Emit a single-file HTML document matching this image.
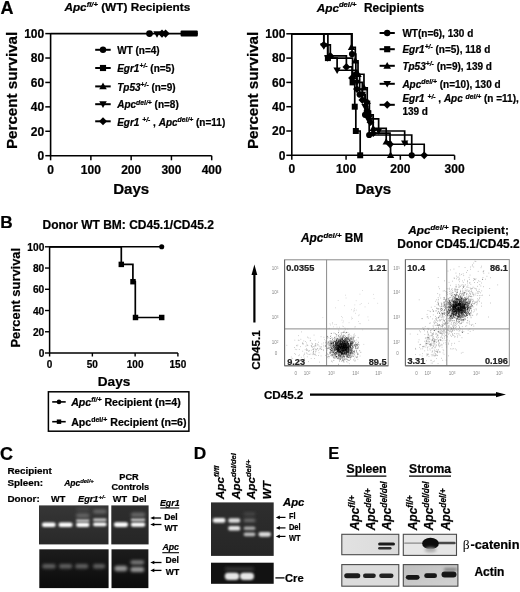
<!DOCTYPE html>
<html><head><meta charset="utf-8"><style>
html,body{margin:0;padding:0;background:#fff;width:520px;height:592px;overflow:hidden}
svg{display:block;filter:blur(0.35px)}
</style></head><body>
<svg width="520" height="592" viewBox="0 0 520 592">
<rect width="520" height="592" fill="#fff"/>
<text x="0.40" y="13.80" font-size="18" text-anchor="start" font-family="Liberation Sans" font-weight="bold" fill="#000" stroke="#000" stroke-width="0.22" >A</text>
<text x="64.40" y="11.40" font-size="11.8" text-anchor="start" font-family="Liberation Sans" font-weight="bold" fill="#000" stroke="#000" stroke-width="0.22" ><tspan font-style="italic">Apc</tspan><tspan dy="-4" font-size="7.6" font-style="italic">fl/+</tspan><tspan dy="4">&#8203;</tspan> (WT) Recipients</text>
<path d="M50.6,32.9V155.7H211.7" stroke="#000" stroke-width="1.6" fill="none" />
<line x1="45.30" y1="155.70" x2="50.60" y2="155.70" stroke="#000" stroke-width="1.5"/>
<text x="44.20" y="160.00" font-size="12" text-anchor="end" font-family="Liberation Sans" font-weight="bold" fill="#000" stroke="#000" stroke-width="0.22" >0</text>
<line x1="45.30" y1="131.28" x2="50.60" y2="131.28" stroke="#000" stroke-width="1.5"/>
<text x="44.20" y="135.58" font-size="12" text-anchor="end" font-family="Liberation Sans" font-weight="bold" fill="#000" stroke="#000" stroke-width="0.22" >20</text>
<line x1="45.30" y1="106.86" x2="50.60" y2="106.86" stroke="#000" stroke-width="1.5"/>
<text x="44.20" y="111.16" font-size="12" text-anchor="end" font-family="Liberation Sans" font-weight="bold" fill="#000" stroke="#000" stroke-width="0.22" >40</text>
<line x1="45.30" y1="82.44" x2="50.60" y2="82.44" stroke="#000" stroke-width="1.5"/>
<text x="44.20" y="86.74" font-size="12" text-anchor="end" font-family="Liberation Sans" font-weight="bold" fill="#000" stroke="#000" stroke-width="0.22" >60</text>
<line x1="45.30" y1="58.02" x2="50.60" y2="58.02" stroke="#000" stroke-width="1.5"/>
<text x="44.20" y="62.32" font-size="12" text-anchor="end" font-family="Liberation Sans" font-weight="bold" fill="#000" stroke="#000" stroke-width="0.22" >80</text>
<line x1="45.30" y1="33.60" x2="50.60" y2="33.60" stroke="#000" stroke-width="1.5"/>
<text x="44.20" y="37.90" font-size="12" text-anchor="end" font-family="Liberation Sans" font-weight="bold" fill="#000" stroke="#000" stroke-width="0.22" >100</text>
<line x1="50.60" y1="155.70" x2="50.60" y2="160.30" stroke="#000" stroke-width="1.5"/>
<text x="50.60" y="173.60" font-size="12" text-anchor="middle" font-family="Liberation Sans" font-weight="bold" fill="#000" stroke="#000" stroke-width="0.22" >0</text>
<line x1="90.88" y1="155.70" x2="90.88" y2="160.30" stroke="#000" stroke-width="1.5"/>
<text x="90.88" y="173.60" font-size="12" text-anchor="middle" font-family="Liberation Sans" font-weight="bold" fill="#000" stroke="#000" stroke-width="0.22" >100</text>
<line x1="131.15" y1="155.70" x2="131.15" y2="160.30" stroke="#000" stroke-width="1.5"/>
<text x="131.15" y="173.60" font-size="12" text-anchor="middle" font-family="Liberation Sans" font-weight="bold" fill="#000" stroke="#000" stroke-width="0.22" >200</text>
<line x1="171.43" y1="155.70" x2="171.43" y2="160.30" stroke="#000" stroke-width="1.5"/>
<text x="171.43" y="173.60" font-size="12" text-anchor="middle" font-family="Liberation Sans" font-weight="bold" fill="#000" stroke="#000" stroke-width="0.22" >300</text>
<line x1="211.70" y1="155.70" x2="211.70" y2="160.30" stroke="#000" stroke-width="1.5"/>
<text x="211.70" y="173.60" font-size="12" text-anchor="middle" font-family="Liberation Sans" font-weight="bold" fill="#000" stroke="#000" stroke-width="0.22" >400</text>
<text x="131.20" y="193.60" font-size="15.1" text-anchor="middle" font-family="Liberation Sans" font-weight="bold" fill="#000" stroke="#000" stroke-width="0.22" >Days</text>
<text x="0.00" y="0.00" font-size="15.2" text-anchor="middle" font-family="Liberation Sans" font-weight="bold" fill="#000" stroke="#000" stroke-width="0.22" transform="translate(16.7,90.4) rotate(-90)">Percent survival</text>
<line x1="50.60" y1="33.60" x2="197.70" y2="33.60" stroke="#000" stroke-width="1.8"/>
<circle cx="149.50" cy="33.60" r="3.38" fill="#000"/>
<path d="M157.00,37.78L160.68,31.34L153.32,31.34Z" fill="#000"/>
<path d="M162.00,29.52L166.08,33.60L162.00,37.68L157.92,33.60Z" fill="#000"/>
<path d="M165.60,29.52L169.68,33.60L165.60,37.68L161.52,33.60Z" fill="#000"/>
<rect x="180.6" y="30.6" width="17.2" height="6" rx="1" fill="#000"/>
<line x1="95.20" y1="49.80" x2="110.70" y2="49.80" stroke="#000" stroke-width="2.0"/>
<circle cx="103.00" cy="49.80" r="3.19" fill="#000"/>
<text x="117.20" y="54.00" font-size="10" text-anchor="start" font-family="Liberation Sans" font-weight="bold" fill="#000" stroke="#000" stroke-width="0.22" >WT (n=4)</text>
<line x1="95.20" y1="68.00" x2="110.70" y2="68.00" stroke="#000" stroke-width="2.0"/>
<rect x="99.93" y="64.93" width="6.14" height="6.14" fill="#000"/>
<text x="117.20" y="72.20" font-size="10" text-anchor="start" font-family="Liberation Sans" font-weight="bold" fill="#000" stroke="#000" stroke-width="0.22" ><tspan font-style="italic">Egr1</tspan><tspan dy="-3.8" font-size="6.8" font-style="italic">+/-</tspan><tspan dy="3.8">&#8203;</tspan> (n=5)</text>
<line x1="95.20" y1="86.40" x2="110.70" y2="86.40" stroke="#000" stroke-width="2.0"/>
<path d="M103.00,82.62L106.78,89.23L99.22,89.23Z" fill="#000"/>
<text x="117.20" y="90.60" font-size="10" text-anchor="start" font-family="Liberation Sans" font-weight="bold" fill="#000" stroke="#000" stroke-width="0.22" ><tspan font-style="italic">Tp53</tspan><tspan dy="-3.8" font-size="6.8" font-style="italic">+/-</tspan><tspan dy="3.8">&#8203;</tspan> (n=9)</text>
<line x1="95.20" y1="104.20" x2="110.70" y2="104.20" stroke="#000" stroke-width="2.0"/>
<path d="M103.00,107.98L106.78,101.37L99.22,101.37Z" fill="#000"/>
<text x="117.20" y="108.40" font-size="10" text-anchor="start" font-family="Liberation Sans" font-weight="bold" fill="#000" stroke="#000" stroke-width="0.22" ><tspan font-style="italic">Apc</tspan><tspan dy="-3.8" font-size="6.8" font-style="italic">del/+</tspan><tspan dy="3.8">&#8203;</tspan> (n=8)</text>
<line x1="95.20" y1="121.30" x2="110.70" y2="121.30" stroke="#000" stroke-width="2.0"/>
<path d="M103.00,117.29L107.01,121.30L103.00,125.31L98.99,121.30Z" fill="#000"/>
<text x="117.20" y="125.50" font-size="10" text-anchor="start" font-family="Liberation Sans" font-weight="bold" fill="#000" stroke="#000" stroke-width="0.22" ><tspan font-style="italic">Egr1</tspan> <tspan dy="-3.8" font-size="6.8" font-style="italic">+/-</tspan><tspan dy="3.8">&#8203;</tspan> , <tspan font-style="italic">Apc</tspan><tspan dy="-3.8" font-size="6.8" font-style="italic">del/+</tspan><tspan dy="3.8">&#8203;</tspan> (n=11)</text>
<text x="316.70" y="11.60" font-size="11.8" text-anchor="start" font-family="Liberation Sans" font-weight="bold" fill="#000" stroke="#000" stroke-width="0.22" ><tspan font-style="italic">Apc</tspan><tspan dy="-4.2" font-size="7.6" font-style="italic">del/+</tspan><tspan dy="4.2">&#8203;</tspan></text>
<text x="364.00" y="11.60" font-size="11.9" text-anchor="start" font-family="Liberation Sans" font-weight="bold" fill="#000" stroke="#000" stroke-width="0.22" >Recipients</text>
<path d="M291.8,33.099999999999994V155.3H454.6" stroke="#000" stroke-width="1.6" fill="none" />
<line x1="286.30" y1="155.30" x2="291.80" y2="155.30" stroke="#000" stroke-width="1.5"/>
<text x="285.40" y="159.60" font-size="12" text-anchor="end" font-family="Liberation Sans" font-weight="bold" fill="#000" stroke="#000" stroke-width="0.22" >0</text>
<line x1="286.30" y1="131.00" x2="291.80" y2="131.00" stroke="#000" stroke-width="1.5"/>
<text x="285.40" y="135.30" font-size="12" text-anchor="end" font-family="Liberation Sans" font-weight="bold" fill="#000" stroke="#000" stroke-width="0.22" >20</text>
<line x1="286.30" y1="106.70" x2="291.80" y2="106.70" stroke="#000" stroke-width="1.5"/>
<text x="285.40" y="111.00" font-size="12" text-anchor="end" font-family="Liberation Sans" font-weight="bold" fill="#000" stroke="#000" stroke-width="0.22" >40</text>
<line x1="286.30" y1="82.40" x2="291.80" y2="82.40" stroke="#000" stroke-width="1.5"/>
<text x="285.40" y="86.70" font-size="12" text-anchor="end" font-family="Liberation Sans" font-weight="bold" fill="#000" stroke="#000" stroke-width="0.22" >60</text>
<line x1="286.30" y1="58.10" x2="291.80" y2="58.10" stroke="#000" stroke-width="1.5"/>
<text x="285.40" y="62.40" font-size="12" text-anchor="end" font-family="Liberation Sans" font-weight="bold" fill="#000" stroke="#000" stroke-width="0.22" >80</text>
<line x1="286.30" y1="33.80" x2="291.80" y2="33.80" stroke="#000" stroke-width="1.5"/>
<text x="285.40" y="38.10" font-size="12" text-anchor="end" font-family="Liberation Sans" font-weight="bold" fill="#000" stroke="#000" stroke-width="0.22" >100</text>
<line x1="291.80" y1="155.30" x2="291.80" y2="159.80" stroke="#000" stroke-width="1.5"/>
<text x="291.80" y="173.40" font-size="12" text-anchor="middle" font-family="Liberation Sans" font-weight="bold" fill="#000" stroke="#000" stroke-width="0.22" >0</text>
<line x1="346.07" y1="155.30" x2="346.07" y2="159.80" stroke="#000" stroke-width="1.5"/>
<text x="346.07" y="173.40" font-size="12" text-anchor="middle" font-family="Liberation Sans" font-weight="bold" fill="#000" stroke="#000" stroke-width="0.22" >100</text>
<line x1="400.33" y1="155.30" x2="400.33" y2="159.80" stroke="#000" stroke-width="1.5"/>
<text x="400.33" y="173.40" font-size="12" text-anchor="middle" font-family="Liberation Sans" font-weight="bold" fill="#000" stroke="#000" stroke-width="0.22" >200</text>
<line x1="454.60" y1="155.30" x2="454.60" y2="159.80" stroke="#000" stroke-width="1.5"/>
<text x="454.60" y="173.40" font-size="12" text-anchor="middle" font-family="Liberation Sans" font-weight="bold" fill="#000" stroke="#000" stroke-width="0.22" >300</text>
<text x="373.20" y="193.60" font-size="15.1" text-anchor="middle" font-family="Liberation Sans" font-weight="bold" fill="#000" stroke="#000" stroke-width="0.22" >Days</text>
<text x="0.00" y="0.00" font-size="15.2" text-anchor="middle" font-family="Liberation Sans" font-weight="bold" fill="#000" stroke="#000" stroke-width="0.22" transform="translate(258.1,90.4) rotate(-90)">Percent survival</text>
<path d="M291.80,33.80H352.04V54.09H355.83V74.26H359.63V94.55H365.06V114.84H369.18V135.01H411.73V155.30" stroke="#000" stroke-width="1.7" fill="none" />
<circle cx="352.04" cy="54.09" r="3.10" fill="#000"/>
<circle cx="355.83" cy="74.26" r="3.10" fill="#000"/>
<circle cx="359.63" cy="94.55" r="3.10" fill="#000"/>
<circle cx="365.06" cy="114.84" r="3.10" fill="#000"/>
<circle cx="369.18" cy="135.01" r="3.10" fill="#000"/>
<circle cx="411.73" cy="155.30" r="3.10" fill="#000"/>
<path d="M291.80,33.80H327.89V58.10H352.58V82.40H354.75V106.70H355.83V131.00H360.18V155.30" stroke="#000" stroke-width="1.7" fill="none" />
<rect x="324.90" y="55.11" width="5.98" height="5.98" fill="#000"/>
<rect x="349.59" y="79.41" width="5.98" height="5.98" fill="#000"/>
<rect x="351.76" y="103.71" width="5.98" height="5.98" fill="#000"/>
<rect x="352.84" y="128.01" width="5.98" height="5.98" fill="#000"/>
<rect x="357.19" y="152.31" width="5.98" height="5.98" fill="#000"/>
<path d="M291.80,33.80H351.49V47.29H355.29V60.77H358.01V74.26H363.97V87.75H367.23V101.35H369.40V114.84H373.20V128.33H386.22V141.81H390.57V155.30" stroke="#000" stroke-width="1.7" fill="none" />
<path d="M351.49,43.61L355.17,50.05L347.81,50.05Z" fill="#000"/>
<path d="M355.29,57.09L358.97,63.53L351.61,63.53Z" fill="#000"/>
<path d="M358.01,70.58L361.69,77.02L354.33,77.02Z" fill="#000"/>
<path d="M363.97,84.07L367.65,90.51L360.29,90.51Z" fill="#000"/>
<path d="M367.23,97.67L370.91,104.11L363.55,104.11Z" fill="#000"/>
<path d="M369.40,111.16L373.08,117.60L365.72,117.60Z" fill="#000"/>
<path d="M373.20,124.65L376.88,131.09L369.52,131.09Z" fill="#000"/>
<path d="M386.22,138.13L389.90,144.57L382.54,144.57Z" fill="#000"/>
<path d="M390.57,151.62L394.25,158.06L386.89,158.06Z" fill="#000"/>
<path d="M291.80,33.80H323.82V45.95H327.62V58.10H337.11V70.25H356.92V82.40H362.35V94.55H365.06V106.70H367.77V118.85H378.63V131.00H404.67V143.15H407.93" stroke="#000" stroke-width="1.7" fill="none" />
<path d="M323.82,49.63L327.50,43.19L320.14,43.19Z" fill="#000"/>
<path d="M327.62,61.78L331.30,55.34L323.94,55.34Z" fill="#000"/>
<path d="M337.11,73.93L340.79,67.49L333.43,67.49Z" fill="#000"/>
<path d="M356.92,86.08L360.60,79.64L353.24,79.64Z" fill="#000"/>
<path d="M362.35,98.23L366.03,91.79L358.67,91.79Z" fill="#000"/>
<path d="M365.06,110.38L368.74,103.94L361.38,103.94Z" fill="#000"/>
<path d="M367.77,122.53L371.45,116.09L364.09,116.09Z" fill="#000"/>
<path d="M378.63,134.68L382.31,128.24L374.95,128.24Z" fill="#000"/>
<path d="M404.67,146.83L408.35,140.39L400.99,140.39Z" fill="#000"/>
<path d="M291.80,33.80H323.82V44.86H330.33V55.91H346.39V66.97H352.04V78.03H356.92V89.08H362.35V100.02H367.23V111.07H370.49V122.13H373.20V133.19H390.02V144.24H424.21V155.30" stroke="#000" stroke-width="1.7" fill="none" />
<path d="M323.82,40.95L327.73,44.86L323.82,48.77L319.91,44.86Z" fill="#000"/>
<path d="M330.33,52.00L334.24,55.91L330.33,59.82L326.42,55.91Z" fill="#000"/>
<path d="M346.39,63.06L350.30,66.97L346.39,70.88L342.48,66.97Z" fill="#000"/>
<path d="M352.04,74.12L355.95,78.03L352.04,81.94L348.13,78.03Z" fill="#000"/>
<path d="M356.92,85.17L360.83,89.08L356.92,92.99L353.01,89.08Z" fill="#000"/>
<path d="M362.35,96.11L366.26,100.02L362.35,103.93L358.44,100.02Z" fill="#000"/>
<path d="M367.23,107.16L371.14,111.07L367.23,114.98L363.32,111.07Z" fill="#000"/>
<path d="M370.49,118.22L374.40,122.13L370.49,126.04L366.58,122.13Z" fill="#000"/>
<path d="M373.20,129.28L377.11,133.19L373.20,137.10L369.29,133.19Z" fill="#000"/>
<path d="M390.02,140.33L393.93,144.24L390.02,148.15L386.11,144.24Z" fill="#000"/>
<path d="M424.21,151.39L428.12,155.30L424.21,159.21L420.30,155.30Z" fill="#000"/>
<line x1="379.60" y1="33.00" x2="394.80" y2="33.00" stroke="#000" stroke-width="2.0"/>
<circle cx="387.20" cy="33.00" r="3.19" fill="#000"/>
<text x="402.40" y="36.70" font-size="10" text-anchor="start" font-family="Liberation Sans" font-weight="bold" fill="#000" stroke="#000" stroke-width="0.22" >WT(n=6), 130 d</text>
<line x1="379.60" y1="49.20" x2="394.80" y2="49.20" stroke="#000" stroke-width="2.0"/>
<rect x="384.13" y="46.13" width="6.14" height="6.14" fill="#000"/>
<text x="402.40" y="52.90" font-size="10" text-anchor="start" font-family="Liberation Sans" font-weight="bold" fill="#000" stroke="#000" stroke-width="0.22" ><tspan font-style="italic">Egr1</tspan><tspan dy="-3.8" font-size="6.8" font-style="italic">+/-</tspan><tspan dy="3.8">&#8203;</tspan> (n=5), 118 d</text>
<line x1="379.60" y1="65.80" x2="394.80" y2="65.80" stroke="#000" stroke-width="2.0"/>
<path d="M387.20,62.02L390.98,68.63L383.42,68.63Z" fill="#000"/>
<text x="402.40" y="69.50" font-size="10" text-anchor="start" font-family="Liberation Sans" font-weight="bold" fill="#000" stroke="#000" stroke-width="0.22" ><tspan font-style="italic">Tp53</tspan><tspan dy="-3.8" font-size="6.8" font-style="italic">+/-</tspan><tspan dy="3.8">&#8203;</tspan> (n=9), 139 d</text>
<line x1="379.60" y1="83.80" x2="394.80" y2="83.80" stroke="#000" stroke-width="2.0"/>
<path d="M387.20,87.58L390.98,80.97L383.42,80.97Z" fill="#000"/>
<text x="402.40" y="87.50" font-size="10" text-anchor="start" font-family="Liberation Sans" font-weight="bold" fill="#000" stroke="#000" stroke-width="0.22" ><tspan font-style="italic">Apc</tspan><tspan dy="-3.8" font-size="6.8" font-style="italic">del/+</tspan><tspan dy="3.8">&#8203;</tspan> (n=10), 130 d</text>
<line x1="379.60" y1="104.80" x2="394.80" y2="104.80" stroke="#000" stroke-width="2.0"/>
<path d="M387.20,100.79L391.21,104.80L387.20,108.81L383.19,104.80Z" fill="#000"/>
<text x="402.40" y="102.40" font-size="10" text-anchor="start" font-family="Liberation Sans" font-weight="bold" fill="#000" stroke="#000" stroke-width="0.22" ><tspan font-style="italic">Egr1</tspan> <tspan dy="-3.8" font-size="6.8" font-style="italic">+/-</tspan><tspan dy="3.8">&#8203;</tspan> , <tspan font-style="italic">Apc</tspan> <tspan dy="-3.8" font-size="6.8" font-style="italic">del/+</tspan><tspan dy="3.8">&#8203;</tspan> (n =11),</text>
<text x="402.40" y="114.60" font-size="10" text-anchor="start" font-family="Liberation Sans" font-weight="bold" fill="#000" stroke="#000" stroke-width="0.22" >139 d</text>
<text x="0.20" y="228.00" font-size="17.2" text-anchor="start" font-family="Liberation Sans" font-weight="bold" fill="#000" stroke="#000" stroke-width="0.22" >B</text>
<text x="42.50" y="229.20" font-size="12.0" text-anchor="start" font-family="Liberation Sans" font-weight="bold" fill="#000" stroke="#000" stroke-width="0.22" >Donor WT BM: CD45.1/CD45.2</text>
<path d="M49.6,246.20000000000002V353.0H177.9" stroke="#000" stroke-width="1.5" fill="none" />
<line x1="45.00" y1="353.00" x2="49.60" y2="353.00" stroke="#000" stroke-width="1.4"/>
<text x="44.30" y="357.00" font-size="10.2" text-anchor="end" font-family="Liberation Sans" font-weight="bold" fill="#000" stroke="#000" stroke-width="0.22" >0</text>
<line x1="45.00" y1="331.76" x2="49.60" y2="331.76" stroke="#000" stroke-width="1.4"/>
<text x="44.30" y="335.76" font-size="10.2" text-anchor="end" font-family="Liberation Sans" font-weight="bold" fill="#000" stroke="#000" stroke-width="0.22" >20</text>
<line x1="45.00" y1="310.52" x2="49.60" y2="310.52" stroke="#000" stroke-width="1.4"/>
<text x="44.30" y="314.52" font-size="10.2" text-anchor="end" font-family="Liberation Sans" font-weight="bold" fill="#000" stroke="#000" stroke-width="0.22" >40</text>
<line x1="45.00" y1="289.28" x2="49.60" y2="289.28" stroke="#000" stroke-width="1.4"/>
<text x="44.30" y="293.28" font-size="10.2" text-anchor="end" font-family="Liberation Sans" font-weight="bold" fill="#000" stroke="#000" stroke-width="0.22" >60</text>
<line x1="45.00" y1="268.04" x2="49.60" y2="268.04" stroke="#000" stroke-width="1.4"/>
<text x="44.30" y="272.04" font-size="10.2" text-anchor="end" font-family="Liberation Sans" font-weight="bold" fill="#000" stroke="#000" stroke-width="0.22" >80</text>
<line x1="45.00" y1="246.80" x2="49.60" y2="246.80" stroke="#000" stroke-width="1.4"/>
<text x="44.30" y="250.80" font-size="10.2" text-anchor="end" font-family="Liberation Sans" font-weight="bold" fill="#000" stroke="#000" stroke-width="0.22" >100</text>
<line x1="49.60" y1="353.00" x2="49.60" y2="356.50" stroke="#000" stroke-width="1.4"/>
<text x="49.60" y="367.60" font-size="10" text-anchor="middle" font-family="Liberation Sans" font-weight="bold" fill="#000" stroke="#000" stroke-width="0.22" >0</text>
<line x1="92.37" y1="353.00" x2="92.37" y2="356.50" stroke="#000" stroke-width="1.4"/>
<text x="92.37" y="367.60" font-size="10" text-anchor="middle" font-family="Liberation Sans" font-weight="bold" fill="#000" stroke="#000" stroke-width="0.22" >50</text>
<line x1="135.13" y1="353.00" x2="135.13" y2="356.50" stroke="#000" stroke-width="1.4"/>
<text x="135.13" y="367.60" font-size="10" text-anchor="middle" font-family="Liberation Sans" font-weight="bold" fill="#000" stroke="#000" stroke-width="0.22" >100</text>
<line x1="177.90" y1="353.00" x2="177.90" y2="356.50" stroke="#000" stroke-width="1.4"/>
<text x="177.90" y="367.60" font-size="10" text-anchor="middle" font-family="Liberation Sans" font-weight="bold" fill="#000" stroke="#000" stroke-width="0.22" >150</text>
<text x="114.00" y="386.00" font-size="13.6" text-anchor="middle" font-family="Liberation Sans" font-weight="bold" fill="#000" stroke="#000" stroke-width="0.22" >Days</text>
<text x="0.00" y="0.00" font-size="12.9" text-anchor="middle" font-family="Liberation Sans" font-weight="bold" fill="#000" stroke="#000" stroke-width="0.22" transform="translate(19.6,297.7) rotate(-90)">Percent survival</text>
<line x1="49.60" y1="246.80" x2="161.70" y2="246.80" stroke="#000" stroke-width="1.6"/>
<circle cx="161.70" cy="246.80" r="2.56" fill="#000"/>
<path d="M49.6,246.8H121.3V264.4H132.9V281.7H135.3V317.5H161.7" stroke="#000" stroke-width="1.7" fill="none" />
<rect x="118.57" y="261.67" width="5.46" height="5.46" fill="#000"/>
<rect x="130.27" y="278.97" width="5.46" height="5.46" fill="#000"/>
<rect x="132.77" y="314.77" width="5.46" height="5.46" fill="#000"/>
<rect x="158.97" y="314.77" width="5.46" height="5.46" fill="#000"/>
<rect x="48.4" y="391.8" width="140.5" height="39.4" fill="none" stroke="#000" stroke-width="1.5"/>
<line x1="52.20" y1="401.90" x2="65.70" y2="401.90" stroke="#000" stroke-width="1.6"/>
<circle cx="59.00" cy="401.90" r="2.29" fill="#000"/>
<text x="71.20" y="405.80" font-size="10.6" text-anchor="start" font-family="Liberation Sans" font-weight="bold" fill="#000" stroke="#000" stroke-width="0.22" ><tspan font-style="italic">Apc</tspan><tspan dy="-4" font-size="7" font-style="italic">fl/+</tspan><tspan dy="4">&#8203;</tspan> Recipient (n=4)</text>
<line x1="52.20" y1="421.70" x2="65.70" y2="421.70" stroke="#000" stroke-width="1.6"/>
<rect x="56.79" y="419.49" width="4.42" height="4.42" fill="#000"/>
<text x="71.20" y="425.60" font-size="10.6" text-anchor="start" font-family="Liberation Sans" font-weight="bold" fill="#000" stroke="#000" stroke-width="0.22" >Apc<tspan dy="-4" font-size="7">del/+</tspan><tspan dy="4">&#8203;</tspan> Recipient (n=6)</text>
<rect x="284.6" y="259.8" width="103.59999999999997" height="106.0" fill="#fff" stroke="#8a8a8a" stroke-width="1"/>
<path d="M345.2 348.8h.7M340.2 348.6h.7M340.8 352.2h.7M344.6 341.9h.7M343.6 342.3h.7M343.2 345.5h.7M347.2 355.8h.7M345.1 345.0h.7M331.6 356.0h.7M339.3 351.9h.7M341.8 346.0h.7M338.2 344.9h.7M344.5 346.0h.7M352.4 350.8h.7M349.3 344.7h.7M337.7 350.6h.7M341.5 349.2h.7M343.6 344.3h.7M336.4 349.7h.7M349.4 350.1h.7M343.6 351.5h.7M333.2 345.4h.7M349.9 347.3h.7M340.2 357.6h.7M337.2 348.0h.7M341.7 345.0h.7M347.1 354.8h.7M347.8 344.2h.7M344.3 340.3h.7M334.3 346.9h.7M338.4 344.4h.7M334.5 349.8h.7M338.9 352.3h.7M329.9 341.1h.7M343.5 354.8h.7M345.6 340.3h.7M327.0 357.0h.7M337.7 345.7h.7M348.0 353.1h.7M343.0 342.0h.7M344.7 346.3h.7M345.8 339.5h.7M345.4 344.9h.7M349.8 355.3h.7M345.3 342.7h.7M338.3 357.4h.7M331.2 343.3h.7M348.2 348.4h.7M351.8 354.1h.7M341.2 344.7h.7M346.0 345.9h.7M349.0 346.9h.7M339.6 350.8h.7M342.3 342.3h.7M347.8 351.9h.7M339.4 340.2h.7M341.3 354.4h.7M340.3 348.2h.7M335.9 340.5h.7M334.5 341.2h.7M345.9 351.4h.7M347.3 341.9h.7M343.0 345.8h.7M345.6 346.7h.7M343.8 348.4h.7M342.1 344.6h.7M345.5 343.7h.7M344.0 337.4h.7M339.9 349.6h.7M347.6 347.6h.7M344.4 349.2h.7M326.7 338.3h.7M343.6 353.1h.7M343.5 345.5h.7M346.0 349.7h.7M339.0 346.1h.7M344.2 335.3h.7M341.5 350.3h.7M341.7 348.6h.7M339.2 361.1h.7M335.1 342.5h.7M347.8 347.8h.7M351.0 343.2h.7M340.0 356.0h.7M345.8 349.2h.7M326.0 342.0h.7M333.4 342.1h.7M333.1 344.1h.7M349.3 346.6h.7M343.2 348.2h.7M342.9 343.5h.7M351.3 347.9h.7M340.3 342.3h.7M335.2 333.8h.7M340.5 342.9h.7M346.3 346.8h.7M345.9 346.4h.7M333.0 355.1h.7M336.3 344.4h.7M333.3 352.6h.7M346.6 341.2h.7M336.5 340.1h.7M335.3 347.5h.7M351.6 343.7h.7M351.5 352.0h.7M341.0 342.6h.7M350.5 357.4h.7M338.5 348.0h.7M344.6 345.5h.7M336.0 340.0h.7M351.0 341.8h.7M341.0 340.2h.7M348.2 351.2h.7M342.8 346.9h.7M340.5 340.4h.7M339.8 359.0h.7M347.0 356.8h.7M338.4 345.9h.7M347.1 347.5h.7M350.1 347.1h.7M348.3 347.8h.7M351.8 340.0h.7M347.4 350.9h.7M335.6 356.9h.7M348.5 357.3h.7M342.0 353.7h.7M341.9 348.5h.7M343.5 350.5h.7M342.4 338.5h.7M348.1 344.8h.7M334.5 348.5h.7M348.5 350.3h.7M338.5 355.7h.7M346.9 342.5h.7M346.9 347.5h.7M335.0 346.7h.7M338.3 355.3h.7M338.7 342.9h.7M337.5 352.0h.7M341.4 355.2h.7M344.3 353.4h.7M344.1 359.3h.7M330.4 350.7h.7M340.4 343.9h.7M336.8 358.7h.7M339.3 346.0h.7M346.6 343.6h.7M344.1 344.2h.7M346.1 340.8h.7M329.6 345.2h.7M350.0 343.0h.7M339.3 349.0h.7M331.6 337.8h.7M356.6 345.2h.7M346.2 352.1h.7M341.4 338.1h.7M347.5 344.7h.7M341.6 352.0h.7M347.1 346.0h.7M340.9 347.7h.7M339.9 352.6h.7M342.7 343.0h.7M337.1 351.8h.7M348.9 334.2h.7M326.5 344.3h.7M345.0 344.4h.7M344.7 339.1h.7M345.2 347.8h.7M348.3 357.2h.7M337.9 345.9h.7M353.0 340.9h.7M338.1 354.5h.7M343.2 346.0h.7M336.3 349.5h.7M348.3 336.9h.7M334.0 353.5h.7M348.0 339.0h.7M347.0 338.4h.7M343.7 351.9h.7M337.6 358.3h.7M345.2 347.8h.7M341.4 351.1h.7M344.4 345.2h.7M343.4 344.3h.7M346.8 349.1h.7M337.1 347.3h.7M342.1 350.6h.7M343.0 348.0h.7M343.2 347.5h.7M334.5 348.2h.7M348.4 345.4h.7M341.0 345.3h.7M336.3 345.3h.7M342.5 357.0h.7M346.5 352.2h.7M326.3 352.9h.7M351.6 352.7h.7M333.9 349.4h.7M345.2 351.3h.7M343.2 345.0h.7M346.3 340.1h.7M345.7 347.6h.7M347.9 339.2h.7M335.6 342.4h.7M346.5 348.2h.7M348.5 349.0h.7M347.5 344.5h.7M357.4 348.6h.7M340.8 341.3h.7M357.7 347.0h.7M347.3 349.2h.7M342.1 342.6h.7M343.2 353.3h.7M348.9 345.7h.7M342.2 343.6h.7M345.3 343.2h.7M342.4 346.5h.7M346.2 348.7h.7M338.3 352.8h.7M333.3 347.5h.7M330.0 349.7h.7M345.5 350.9h.7M341.8 344.7h.7M333.6 348.7h.7M345.2 338.4h.7M336.8 342.0h.7M331.2 348.4h.7M347.7 343.6h.7M341.8 357.0h.7M331.5 344.3h.7M335.7 356.6h.7M333.7 350.6h.7M343.6 347.3h.7M346.3 344.3h.7M349.1 340.0h.7M339.1 354.1h.7M335.6 352.8h.7M342.1 347.9h.7M332.6 345.0h.7M342.0 353.7h.7M340.2 348.5h.7M337.5 347.8h.7M344.2 344.0h.7M338.1 347.9h.7M325.8 348.4h.7M342.3 352.4h.7M343.3 355.0h.7M333.8 346.8h.7M340.2 348.8h.7M345.8 345.2h.7M337.0 347.7h.7M341.7 348.2h.7M343.9 343.8h.7M334.0 351.1h.7M337.7 349.4h.7M341.4 353.1h.7M342.7 350.0h.7M339.6 344.9h.7M340.2 335.9h.7M342.8 342.0h.7M327.8 341.9h.7M343.6 351.3h.7M356.1 344.5h.7M349.8 345.9h.7M347.8 343.7h.7M341.2 344.9h.7M335.6 345.0h.7M336.0 341.6h.7M354.8 346.3h.7M342.2 348.6h.7M342.3 341.7h.7M343.6 351.5h.7M346.4 344.6h.7M352.6 351.4h.7M342.2 339.2h.7M339.5 346.2h.7M337.9 340.4h.7M339.2 344.1h.7M346.4 351.0h.7M342.0 340.8h.7M347.0 350.9h.7M344.0 347.7h.7M348.9 339.9h.7M355.8 350.1h.7M346.8 347.5h.7M341.8 350.7h.7M352.8 356.2h.7M334.8 340.7h.7M332.4 355.0h.7M339.3 341.6h.7M340.2 347.8h.7M335.6 348.1h.7M333.5 347.4h.7M344.0 347.9h.7M340.7 345.2h.7M343.1 352.0h.7M351.5 349.9h.7M341.4 343.7h.7M337.9 349.9h.7M340.0 352.2h.7M345.2 346.0h.7M354.7 344.7h.7M342.2 351.0h.7M330.9 333.5h.7M343.1 350.1h.7M344.5 346.7h.7M344.3 348.7h.7M346.7 347.2h.7M336.8 357.0h.7M335.9 347.5h.7M345.9 352.7h.7M345.9 350.7h.7M343.9 343.8h.7M341.5 345.0h.7M341.9 354.5h.7M338.9 345.2h.7M346.6 348.0h.7M345.9 351.9h.7M338.8 338.2h.7M341.2 346.8h.7M344.0 339.8h.7M338.0 343.0h.7M342.0 347.6h.7M350.7 356.4h.7M331.6 343.0h.7M341.3 343.8h.7M344.3 345.3h.7M340.8 355.0h.7M338.7 340.0h.7M333.9 352.6h.7M344.1 353.6h.7M344.7 339.0h.7M355.5 346.3h.7M338.1 350.1h.7M345.4 344.9h.7M335.1 352.6h.7M343.6 346.0h.7M340.9 354.0h.7M344.9 350.2h.7M341.6 348.1h.7M348.4 349.3h.7M339.9 340.5h.7M337.6 343.3h.7M346.6 347.1h.7M339.8 339.9h.7M343.3 347.9h.7M342.2 355.0h.7M344.3 350.9h.7M330.2 353.1h.7M343.7 347.3h.7M347.4 350.2h.7M338.5 348.9h.7M332.7 345.1h.7M342.0 350.9h.7M341.1 343.3h.7M338.2 346.0h.7M352.1 346.0h.7M356.3 350.9h.7M342.2 350.7h.7M348.2 346.6h.7M329.5 353.7h.7M346.9 344.5h.7M357.9 344.4h.7M343.6 346.5h.7M344.3 342.9h.7M334.7 339.2h.7M321.4 349.4h.7M339.9 343.4h.7M355.0 342.9h.7M340.6 347.5h.7M337.1 350.0h.7M345.9 350.7h.7M342.5 347.3h.7M347.6 348.4h.7M341.2 345.0h.7M341.2 344.2h.7M350.8 353.3h.7M336.4 345.2h.7M344.2 342.1h.7M351.8 355.3h.7M347.4 345.8h.7M341.2 346.5h.7M347.9 355.2h.7M340.4 347.3h.7M342.6 345.7h.7M339.9 344.1h.7M329.3 347.7h.7M346.2 349.6h.7M339.9 340.8h.7M351.6 348.1h.7M346.5 349.1h.7M342.3 339.1h.7M337.8 341.4h.7M341.6 346.5h.7M348.9 346.9h.7M338.1 335.6h.7M345.1 350.4h.7M345.1 352.8h.7M340.4 344.6h.7M332.8 344.8h.7M332.8 343.7h.7M338.8 351.0h.7M347.3 349.5h.7M339.7 347.1h.7M351.6 344.8h.7M344.3 347.5h.7M343.7 341.3h.7M357.0 353.9h.7M330.2 336.5h.7M344.6 347.7h.7M346.1 342.7h.7M335.8 348.9h.7M348.3 347.0h.7M335.9 352.9h.7M330.5 347.6h.7M339.5 348.8h.7M337.9 345.2h.7M339.7 351.9h.7M338.1 347.7h.7M346.6 347.4h.7M352.3 341.6h.7M339.6 351.4h.7M353.5 359.9h.7M341.9 351.1h.7M333.9 344.9h.7M341.9 345.2h.7M343.9 356.6h.7M330.9 341.5h.7M343.4 343.5h.7M344.7 345.1h.7M340.8 341.0h.7M339.6 343.1h.7M337.2 343.9h.7M352.5 348.0h.7M341.2 345.3h.7M337.4 353.2h.7M347.7 346.5h.7M345.2 345.4h.7M350.2 347.7h.7M338.8 349.5h.7M342.5 343.1h.7M338.6 348.9h.7M345.8 348.8h.7M334.8 345.7h.7M343.2 345.4h.7M346.7 352.5h.7M340.1 348.9h.7M350.0 343.5h.7M344.7 350.9h.7M356.0 351.9h.7M349.3 350.0h.7M347.0 350.7h.7M326.9 336.4h.7M345.1 349.7h.7M338.1 348.0h.7M342.6 336.7h.7M347.2 355.7h.7M349.0 356.1h.7M343.0 350.4h.7M342.8 341.2h.7M331.9 354.5h.7M346.5 341.6h.7M347.3 351.6h.7M346.0 345.0h.7M340.3 358.8h.7M346.5 343.0h.7M327.4 343.1h.7M345.1 346.7h.7M336.4 334.7h.7M342.3 349.1h.7M339.4 343.1h.7M337.4 341.8h.7M338.9 346.2h.7M338.0 346.7h.7M348.7 355.5h.7M338.7 346.0h.7M348.0 346.5h.7M341.4 352.4h.7M345.3 344.8h.7M329.5 349.2h.7M344.1 341.3h.7M340.4 347.4h.7M339.5 346.2h.7M337.7 352.6h.7M338.4 350.5h.7M345.9 353.3h.7M346.1 354.0h.7M344.2 352.6h.7M343.3 340.6h.7M342.4 351.2h.7M331.7 346.8h.7M343.1 350.5h.7M342.6 349.8h.7M346.7 343.8h.7M345.6 343.0h.7M342.0 348.9h.7M340.2 348.9h.7M331.8 348.4h.7M342.0 349.2h.7M342.0 352.4h.7M341.1 344.9h.7M326.5 337.1h.7M331.1 348.5h.7M358.0 342.6h.7M342.9 360.0h.7M340.3 344.9h.7M328.6 344.7h.7M344.3 343.2h.7M338.6 347.4h.7M339.2 344.3h.7M339.0 346.4h.7M341.9 358.7h.7M346.6 346.5h.7M341.9 351.9h.7M343.0 344.4h.7M354.0 341.3h.7M330.6 352.0h.7M351.3 343.2h.7M347.0 342.9h.7M337.8 350.6h.7M336.6 343.1h.7M336.1 356.6h.7M353.6 335.0h.7M337.7 350.9h.7M337.6 346.3h.7M341.6 340.9h.7M350.0 352.9h.7M343.4 350.4h.7M340.2 347.6h.7M337.9 345.9h.7M328.9 356.7h.7M337.5 353.8h.7M342.4 347.6h.7M342.8 344.7h.7M337.8 351.5h.7M341.1 358.1h.7M345.3 345.1h.7M341.1 348.1h.7M342.2 342.8h.7M345.6 343.8h.7M349.9 346.4h.7M339.9 350.4h.7M337.3 351.5h.7M352.7 339.7h.7M345.5 347.4h.7M346.9 341.6h.7M334.5 341.5h.7M344.8 350.7h.7M342.7 340.3h.7M340.0 351.8h.7M337.0 350.8h.7M338.3 340.0h.7M355.1 347.4h.7M344.1 341.6h.7M344.6 350.6h.7M345.8 339.4h.7M342.7 341.2h.7M340.9 344.9h.7M349.9 345.4h.7M341.7 354.7h.7M338.7 346.3h.7M346.8 349.0h.7M345.9 337.5h.7M332.8 345.9h.7M342.6 337.9h.7M335.4 347.7h.7M335.5 347.8h.7M344.9 347.1h.7M343.8 347.3h.7M350.7 351.8h.7M331.2 350.8h.7M337.5 348.4h.7M340.0 352.5h.7M335.0 346.0h.7M350.7 348.2h.7M341.2 344.1h.7M341.4 346.9h.7M346.5 347.7h.7M327.7 348.0h.7M336.8 347.6h.7M338.4 344.2h.7M355.2 346.8h.7M335.4 352.7h.7M327.7 354.6h.7M344.3 356.9h.7M330.9 350.7h.7M345.8 354.9h.7M339.9 351.4h.7M350.2 345.8h.7M348.3 337.8h.7M343.2 346.8h.7M350.7 338.5h.7M344.8 349.1h.7M342.4 346.1h.7M334.1 350.0h.7M332.8 350.2h.7M345.3 341.4h.7M350.5 353.5h.7M330.6 343.0h.7M347.0 338.3h.7M334.7 337.2h.7M344.6 344.8h.7M343.1 346.5h.7M333.1 342.2h.7M333.7 353.7h.7M338.5 350.3h.7M343.7 345.7h.7M338.0 347.3h.7M347.8 349.7h.7M342.7 343.7h.7M351.4 349.1h.7M346.0 350.5h.7M340.5 341.7h.7M335.4 343.4h.7M343.3 342.4h.7M346.1 355.4h.7M349.8 352.0h.7M341.1 350.9h.7M340.1 346.1h.7M338.8 346.2h.7M342.1 344.1h.7M325.6 346.4h.7M342.3 341.7h.7M342.7 356.4h.7M348.5 345.2h.7M351.4 352.9h.7M356.5 348.3h.7M346.2 348.2h.7M335.4 349.3h.7M347.5 342.0h.7M347.2 339.8h.7M332.1 350.4h.7M338.0 350.8h.7M345.6 351.6h.7M340.5 345.9h.7M341.2 346.6h.7M346.6 346.4h.7M338.0 342.7h.7M350.7 355.0h.7M348.7 346.9h.7M340.1 355.7h.7M333.5 347.4h.7M346.4 350.1h.7M351.7 342.1h.7M333.7 351.8h.7M347.7 344.9h.7M334.3 346.5h.7M346.9 343.6h.7M339.2 344.7h.7M346.8 346.0h.7M331.0 350.3h.7M345.0 345.9h.7M347.4 347.4h.7M341.6 350.4h.7M345.5 349.0h.7M340.6 339.5h.7M351.3 337.2h.7M345.6 343.5h.7M341.0 338.6h.7M335.7 348.1h.7M350.2 345.1h.7M344.6 344.8h.7M343.1 348.5h.7M348.4 354.6h.7M335.5 349.5h.7M337.2 351.3h.7M348.4 343.2h.7M347.7 354.3h.7M338.6 343.1h.7M337.6 354.9h.7M344.2 350.7h.7M329.9 349.3h.7M332.9 346.3h.7M334.9 343.0h.7M337.0 351.0h.7M349.9 350.2h.7M345.7 343.2h.7M332.8 345.9h.7M338.8 350.1h.7M345.2 352.4h.7M337.8 351.2h.7M329.8 352.7h.7M350.1 344.5h.7M336.2 346.6h.7M343.1 361.0h.7M343.9 341.4h.7M351.0 342.9h.7M339.5 341.9h.7M346.8 342.2h.7M339.7 355.2h.7M341.4 354.6h.7M335.7 344.6h.7M349.9 357.8h.7M350.9 345.6h.7M348.5 354.1h.7M354.1 337.1h.7M343.7 348.6h.7M348.1 348.3h.7M342.6 342.3h.7M346.5 354.3h.7M345.9 349.8h.7M351.8 346.2h.7M339.4 341.8h.7M352.7 345.8h.7M344.7 350.2h.7M349.6 341.5h.7M334.2 344.9h.7M343.6 353.8h.7M357.4 345.6h.7M348.9 351.8h.7M332.1 343.6h.7M343.1 351.6h.7M341.2 350.0h.7M337.2 345.1h.7M338.3 345.2h.7M345.3 350.2h.7M343.8 350.4h.7M342.3 339.5h.7M346.5 348.2h.7M348.6 349.3h.7M345.8 353.9h.7M337.3 350.1h.7M337.0 338.7h.7M346.0 338.7h.7M336.2 340.2h.7M350.8 341.5h.7M341.3 348.1h.7M343.2 335.2h.7M338.3 349.6h.7M344.1 345.3h.7M352.4 346.6h.7M344.9 349.1h.7M336.1 340.2h.7M353.1 342.3h.7M335.5 354.3h.7M331.0 352.7h.7M331.0 345.2h.7M350.8 345.0h.7M340.2 355.6h.7M346.8 357.1h.7M340.5 351.2h.7M345.4 347.2h.7M342.2 349.2h.7M342.8 350.2h.7M342.5 353.4h.7M339.2 357.2h.7M342.6 337.9h.7M343.6 353.8h.7M332.2 352.4h.7M346.5 351.2h.7M341.5 345.6h.7M335.6 352.1h.7M343.6 340.8h.7M329.4 352.3h.7M357.0 354.3h.7M341.6 353.2h.7M341.2 346.4h.7M333.9 348.9h.7M352.2 352.8h.7M347.2 351.3h.7M340.5 356.0h.7M348.3 346.2h.7M345.7 353.1h.7M337.7 345.6h.7M336.7 345.1h.7M342.0 351.5h.7M341.4 361.1h.7M333.3 352.5h.7M346.7 349.6h.7M349.7 349.5h.7M334.2 353.3h.7M344.5 339.7h.7M337.1 342.8h.7M343.7 343.5h.7M342.3 344.3h.7M338.2 341.5h.7M333.2 352.3h.7M337.7 341.7h.7M336.5 352.7h.7M334.5 349.7h.7M338.3 349.0h.7M336.3 350.3h.7M339.3 347.3h.7M343.6 346.9h.7M329.0 345.8h.7M337.3 350.2h.7M332.6 343.6h.7M340.3 351.1h.7M348.0 349.2h.7M347.9 349.7h.7M331.2 354.8h.7M344.7 341.4h.7M342.8 345.1h.7M334.8 345.1h.7M338.9 342.8h.7M342.6 342.6h.7M334.4 357.4h.7M341.3 341.9h.7M343.6 349.5h.7M338.8 349.6h.7M343.0 347.0h.7M342.4 339.9h.7M352.9 338.1h.7M348.5 338.9h.7M342.9 346.8h.7M337.7 348.2h.7M338.3 347.8h.7M345.3 339.3h.7M330.6 349.7h.7M339.6 347.8h.7M335.3 352.9h.7M345.5 358.8h.7M357.6 347.8h.7M341.2 347.7h.7M342.9 340.3h.7M339.9 346.7h.7M351.1 350.5h.7M352.4 342.5h.7M342.3 349.2h.7M347.9 351.9h.7M345.5 354.5h.7M350.6 342.0h.7M348.6 352.2h.7M337.6 351.1h.7M349.0 354.1h.7M338.5 339.3h.7M340.1 351.3h.7M348.1 335.0h.7M331.3 350.2h.7M349.2 350.9h.7M340.5 338.2h.7M339.0 351.0h.7M347.5 356.9h.7M348.5 352.9h.7M334.5 356.0h.7M337.5 346.1h.7M342.1 343.6h.7M345.8 353.4h.7M330.6 343.3h.7M345.1 338.4h.7M330.9 343.7h.7M340.0 351.1h.7M333.3 342.1h.7M329.9 351.9h.7M344.2 348.7h.7M338.6 355.9h.7M351.6 344.9h.7M340.3 344.2h.7M336.5 353.4h.7M343.0 350.8h.7M352.1 347.7h.7M335.7 346.1h.7M347.8 339.8h.7M337.8 347.0h.7M336.0 356.9h.7M337.3 342.9h.7M343.3 354.1h.7M345.7 346.3h.7M350.6 344.2h.7M348.0 351.7h.7M346.3 352.4h.7M343.6 346.6h.7M342.0 342.7h.7M347.4 341.9h.7M338.7 346.8h.7M338.9 351.3h.7M342.0 348.5h.7M345.9 332.6h.7M336.9 343.7h.7M340.2 351.1h.7M335.9 346.5h.7M338.7 339.4h.7M328.1 342.1h.7M343.8 347.5h.7M345.7 346.5h.7M343.1 346.1h.7M337.8 357.0h.7M345.9 359.2h.7M340.9 346.0h.7M338.6 351.6h.7M352.5 338.3h.7M349.8 347.8h.7M330.5 355.4h.7M336.9 349.9h.7M343.2 350.3h.7M338.1 332.4h.7M343.8 347.3h.7M347.7 347.7h.7M334.6 338.6h.7M340.5 346.7h.7M332.9 345.7h.7M328.2 356.3h.7M343.3 344.9h.7M327.9 347.1h.7M337.6 349.4h.7M336.6 354.6h.7M345.4 344.0h.7M345.2 347.6h.7M342.5 350.5h.7M345.4 347.3h.7M341.2 347.8h.7M338.2 348.2h.7M345.2 336.3h.7M355.8 345.4h.7M332.8 340.5h.7M347.1 344.0h.7M350.0 338.1h.7M335.0 343.6h.7M343.7 351.9h.7M336.0 345.0h.7M339.7 349.4h.7M344.1 347.2h.7M334.7 348.9h.7M351.7 341.3h.7M348.2 348.0h.7M346.1 345.3h.7M337.5 345.1h.7M348.2 344.6h.7M353.9 352.0h.7M353.0 337.1h.7M346.6 337.6h.7M338.5 349.2h.7M342.8 351.6h.7M346.1 347.7h.7M356.0 357.6h.7M341.9 336.1h.7M345.0 344.1h.7M340.8 346.1h.7M337.2 348.1h.7M342.0 346.6h.7M337.0 345.9h.7M342.4 347.3h.7M335.7 344.5h.7M348.0 345.4h.7M339.9 344.5h.7M340.7 350.0h.7M351.4 343.9h.7M338.2 348.3h.7M343.3 345.6h.7M337.7 352.0h.7M346.1 348.0h.7M336.0 353.5h.7M334.8 345.0h.7M344.2 347.0h.7M336.0 348.1h.7M340.1 347.8h.7M337.1 345.8h.7M332.0 342.0h.7M342.1 348.4h.7M338.4 342.7h.7M338.7 344.8h.7M352.5 343.8h.7M344.8 349.5h.7M347.9 352.1h.7M342.3 341.4h.7M344.5 353.2h.7M348.6 341.8h.7M331.1 343.4h.7M350.6 350.9h.7M348.9 353.6h.7M346.7 338.1h.7M340.1 341.9h.7M341.5 353.6h.7M341.8 348.5h.7M341.2 344.0h.7M344.6 346.5h.7M353.2 347.5h.7M342.6 345.3h.7M338.3 348.5h.7M343.0 340.8h.7M338.7 352.9h.7M339.4 348.2h.7M335.1 342.1h.7M343.0 345.0h.7M342.4 353.4h.7M345.1 348.0h.7M343.9 349.8h.7M335.6 355.8h.7M348.3 343.6h.7M338.5 347.6h.7M329.5 342.1h.7M346.1 351.5h.7M335.9 344.2h.7M350.8 356.9h.7M336.7 346.7h.7M347.5 347.2h.7M348.8 360.5h.7M329.6 343.8h.7M331.4 343.6h.7M344.5 341.8h.7M338.4 336.2h.7M348.4 347.5h.7M337.9 350.7h.7M341.7 349.4h.7M345.0 352.9h.7M342.5 344.8h.7M340.1 339.0h.7M338.8 341.0h.7M330.5 343.7h.7M341.0 346.5h.7M338.4 350.0h.7M337.8 349.2h.7M338.5 358.5h.7M339.0 350.2h.7M341.3 352.8h.7M340.6 343.6h.7M350.2 350.0h.7M347.6 342.6h.7M340.1 341.7h.7M348.8 348.1h.7M341.4 350.3h.7M344.3 345.6h.7M348.0 348.9h.7M346.5 348.4h.7M346.1 342.1h.7M335.1 343.8h.7M338.4 354.1h.7M351.1 345.1h.7M343.9 353.6h.7M337.7 351.8h.7M346.3 348.9h.7M349.2 346.4h.7M347.4 352.4h.7M342.5 342.8h.7M338.7 345.1h.7M339.7 352.9h.7M359.4 350.7h.7M352.0 349.9h.7M344.0 346.5h.7M337.4 343.8h.7M344.4 342.9h.7M345.7 355.1h.7M344.8 344.7h.7M339.6 339.6h.7M346.6 344.9h.7M349.3 352.0h.7M334.3 354.8h.7M335.6 344.9h.7M332.2 348.1h.7M335.3 347.2h.7M332.9 345.8h.7M340.5 345.3h.7M341.7 347.2h.7M334.2 346.8h.7M342.3 360.3h.7M339.4 352.2h.7M330.2 345.4h.7M338.4 351.3h.7M344.1 352.8h.7M337.2 348.2h.7M346.9 352.4h.7M345.6 350.8h.7M330.7 345.3h.7M342.1 352.9h.7M346.8 345.8h.7M348.3 343.5h.7M340.8 349.4h.7M339.5 343.6h.7M332.6 342.2h.7M341.1 344.2h.7M348.0 357.3h.7M342.2 345.9h.7M339.3 352.9h.7M337.1 339.9h.7M341.3 353.5h.7M336.6 349.5h.7M348.4 351.7h.7M353.8 354.7h.7M335.5 350.2h.7M345.5 343.6h.7M346.6 352.7h.7M336.6 356.7h.7M340.6 341.9h.7M345.2 354.0h.7M342.0 342.9h.7M340.0 356.5h.7M346.7 345.4h.7M340.6 338.2h.7M341.9 349.9h.7M336.5 341.5h.7M325.6 341.0h.7M338.0 343.5h.7M346.2 345.2h.7M341.6 353.4h.7M345.6 346.3h.7M336.2 352.2h.7M357.3 357.1h.7M340.8 348.5h.7M347.7 355.0h.7M350.7 350.2h.7M342.2 343.2h.7M335.4 343.9h.7M338.6 349.1h.7M342.2 353.8h.7M350.7 348.2h.7M338.1 364.3h.7M339.3 352.1h.7M344.5 345.4h.7M339.3 347.4h.7M344.3 345.0h.7M340.5 356.7h.7M335.0 354.4h.7M342.5 346.8h.7M336.8 346.9h.7M336.6 348.5h.7M346.2 345.6h.7M349.7 338.7h.7M339.4 351.5h.7M343.9 352.2h.7M346.4 337.6h.7M334.6 358.5h.7M345.2 354.0h.7M343.9 347.5h.7M337.1 338.6h.7M353.9 351.7h.7M337.4 345.8h.7M333.0 357.6h.7M342.5 359.7h.7M348.1 347.3h.7M337.9 348.2h.7M353.5 351.2h.7M343.1 356.3h.7M345.8 347.4h.7M345.1 349.5h.7M341.2 343.4h.7M341.0 349.8h.7M340.9 352.3h.7M343.4 349.0h.7M349.9 340.8h.7M345.7 349.7h.7M346.7 346.0h.7M343.7 347.4h.7M337.4 349.8h.7M349.9 343.1h.7M344.7 344.2h.7M339.4 346.2h.7M346.1 356.4h.7M338.8 346.5h.7M349.8 352.3h.7M352.7 356.5h.7M356.3 344.3h.7M342.0 351.1h.7M343.0 350.0h.7M337.6 348.5h.7M337.4 342.1h.7M345.4 350.0h.7M339.5 350.2h.7M339.9 345.7h.7M341.5 353.7h.7M352.3 348.6h.7M347.9 353.0h.7M340.0 351.4h.7M343.7 349.1h.7M352.6 343.2h.7M350.1 350.7h.7M347.0 342.5h.7M347.5 351.3h.7M344.2 348.0h.7M346.1 348.8h.7M348.9 341.9h.7M348.1 348.5h.7M336.5 340.2h.7M334.1 340.1h.7M345.7 344.8h.7M343.8 340.1h.7M337.3 349.9h.7M346.7 353.8h.7M337.8 348.7h.7M337.5 344.8h.7M339.3 349.7h.7M350.9 339.2h.7M332.7 348.3h.7M342.5 346.1h.7M345.5 345.8h.7M347.7 349.1h.7M343.4 343.3h.7M339.2 349.5h.7M335.5 344.0h.7M337.6 348.3h.7M345.7 354.5h.7M342.3 347.6h.7M333.1 343.1h.7M343.8 347.8h.7M335.6 343.3h.7M343.4 343.9h.7M348.9 340.7h.7M355.0 344.8h.7M339.6 347.5h.7M336.5 349.2h.7M330.8 347.6h.7M344.7 347.9h.7M340.0 342.5h.7M338.2 340.6h.7M330.8 348.2h.7M337.4 351.3h.7M345.2 340.2h.7M345.2 352.9h.7M340.7 345.1h.7M340.3 347.4h.7M331.7 350.1h.7M349.6 347.9h.7M340.5 340.5h.7M340.9 351.1h.7M344.2 343.1h.7M344.2 350.3h.7M345.1 348.5h.7M333.5 349.5h.7M346.6 347.2h.7M341.5 352.9h.7M339.9 343.2h.7M354.0 350.7h.7M348.1 343.5h.7M351.6 352.1h.7M339.1 355.6h.7M349.9 343.9h.7M338.2 352.0h.7M330.8 346.5h.7M345.4 344.4h.7M345.2 349.7h.7M343.9 343.7h.7M350.9 345.0h.7M343.0 349.8h.7M348.1 350.0h.7M344.9 349.5h.7M342.5 346.8h.7M341.6 339.2h.7M346.9 340.6h.7M341.1 341.1h.7M346.5 343.0h.7M343.7 350.5h.7M341.9 348.1h.7M337.9 341.2h.7M332.0 355.6h.7M338.4 349.7h.7M345.4 347.4h.7M343.9 339.0h.7M337.8 345.3h.7M350.0 344.7h.7M330.8 341.0h.7M351.3 343.2h.7M333.5 343.5h.7M345.5 349.0h.7M337.4 345.5h.7M347.7 351.8h.7M350.4 353.9h.7M343.8 347.4h.7M338.7 353.9h.7M333.6 344.2h.7M334.0 337.5h.7M342.3 353.4h.7M346.3 345.2h.7M340.9 349.3h.7M338.8 348.6h.7M347.6 359.9h.7M343.0 346.3h.7M343.5 350.5h.7M341.7 347.6h.7M332.2 342.2h.7M336.0 346.3h.7M350.7 349.0h.7M341.5 352.7h.7M347.6 350.3h.7M332.4 352.2h.7M340.1 345.0h.7M348.3 349.0h.7M339.9 351.8h.7M344.5 346.8h.7M348.1 350.0h.7M339.7 336.7h.7M329.9 338.5h.7M340.1 340.7h.7M340.1 346.8h.7M334.7 350.6h.7M349.6 349.4h.7M340.1 342.0h.7M338.1 350.0h.7M352.5 353.3h.7M342.8 344.3h.7M336.2 349.9h.7M346.6 341.2h.7M347.8 352.1h.7M345.8 352.8h.7M339.7 352.1h.7M344.6 345.1h.7M337.3 342.6h.7M349.8 339.9h.7M344.8 347.5h.7M341.2 351.2h.7M342.6 353.8h.7M349.8 346.5h.7M346.8 343.0h.7M340.8 349.2h.7M343.4 349.1h.7M346.5 356.8h.7M339.1 355.0h.7M339.1 347.4h.7M341.5 339.5h.7M348.9 340.0h.7M344.4 349.9h.7M340.2 341.3h.7M338.9 347.1h.7M340.1 347.2h.7M347.9 347.1h.7M342.9 340.8h.7M347.0 346.5h.7M336.0 348.9h.7M336.7 342.2h.7M336.5 343.0h.7M336.1 338.7h.7M350.7 343.4h.7M350.7 352.1h.7M331.9 351.5h.7M346.1 344.0h.7M327.6 348.5h.7M340.3 347.8h.7M340.4 349.3h.7M338.8 356.1h.7M351.0 338.9h.7M338.0 349.2h.7M348.2 345.6h.7M335.4 344.0h.7M342.9 346.7h.7M349.0 340.6h.7M349.1 345.0h.7M351.0 349.4h.7M344.4 349.5h.7M336.8 343.1h.7M332.0 350.9h.7M341.8 346.7h.7M345.0 349.1h.7M342.0 357.7h.7M340.6 347.1h.7M352.2 343.7h.7M336.7 349.6h.7M342.6 350.4h.7M337.1 344.7h.7M336.2 342.7h.7M344.6 343.5h.7M354.5 345.3h.7M341.1 348.8h.7M347.1 345.2h.7M343.7 353.9h.7M345.7 351.1h.7M342.4 340.9h.7M343.2 348.0h.7M346.5 361.7h.7M343.0 344.8h.7M337.9 349.4h.7M349.1 348.4h.7M349.9 348.0h.7M339.5 359.8h.7M342.0 346.2h.7M338.3 355.5h.7M334.7 341.5h.7M335.8 352.3h.7M345.8 350.1h.7M330.4 344.6h.7M338.7 340.5h.7M351.7 350.3h.7M335.0 347.9h.7M337.9 350.6h.7M340.2 352.3h.7M344.1 343.3h.7M358.2 354.1h.7M342.8 352.3h.7M346.5 347.3h.7M344.7 349.1h.7M342.7 337.4h.7M344.0 352.7h.7M340.0 351.4h.7M344.0 346.6h.7M347.0 348.9h.7M334.6 348.4h.7M340.0 343.3h.7M338.3 341.7h.7M343.9 344.8h.7M333.5 360.4h.7M350.2 352.9h.7M347.4 356.6h.7M345.0 342.3h.7M339.2 344.3h.7M343.4 347.6h.7M346.2 345.5h.7M338.1 348.5h.7M344.5 350.2h.7M334.9 355.5h.7M338.9 349.5h.7M326.8 348.8h.7M340.7 349.1h.7M330.7 343.8h.7M344.8 349.0h.7M349.0 345.2h.7M336.1 342.4h.7M340.2 344.4h.7M350.9 351.4h.7M337.2 350.5h.7M337.2 349.5h.7M344.3 342.7h.7M344.5 340.8h.7M348.1 350.5h.7M339.4 350.6h.7M342.3 348.3h.7M338.6 341.8h.7M341.9 345.8h.7M335.8 353.6h.7M344.4 348.6h.7M344.9 346.0h.7M339.5 347.3h.7M336.3 345.4h.7M340.2 354.0h.7M339.1 354.4h.7M338.9 351.1h.7M337.5 347.7h.7M332.2 349.5h.7M337.0 346.8h.7M325.7 345.6h.7M343.5 351.4h.7M340.0 359.3h.7M342.7 347.0h.7M343.4 354.7h.7M336.5 346.8h.7M341.8 343.9h.7M339.5 347.4h.7M342.7 344.9h.7M344.7 342.0h.7M340.8 350.5h.7M340.0 343.1h.7M345.1 345.7h.7M328.6 348.4h.7M343.3 346.9h.7M337.7 346.8h.7M341.3 341.7h.7M337.9 350.5h.7M335.8 345.8h.7M353.7 352.3h.7M348.2 341.2h.7M345.6 340.9h.7M349.0 355.6h.7M344.9 341.5h.7M349.3 357.0h.7M339.2 340.9h.7M346.6 346.9h.7M348.5 347.9h.7M346.1 347.1h.7M333.5 347.1h.7M360.5 352.3h.7M349.7 346.1h.7M352.1 342.0h.7M338.6 344.8h.7M330.9 347.4h.7M347.4 348.4h.7M343.2 358.0h.7M349.8 343.5h.7M338.3 352.0h.7M336.2 356.6h.7M354.1 344.9h.7M350.1 353.1h.7M339.2 345.4h.7M327.4 336.9h.7M343.4 347.8h.7M352.6 337.2h.7M342.9 336.5h.7M350.1 342.7h.7M344.2 345.0h.7M339.7 348.4h.7M353.5 353.5h.7M330.0 349.7h.7M341.9 346.2h.7M352.7 346.6h.7M340.6 348.0h.7M342.0 351.1h.7M343.3 349.6h.7M344.4 332.3h.7M353.4 351.7h.7M346.9 343.3h.7M346.9 344.0h.7M350.3 344.2h.7M350.0 342.6h.7M342.1 349.9h.7M347.7 351.0h.7M339.4 343.5h.7M357.4 344.7h.7M335.6 341.5h.7M345.8 347.9h.7M344.4 347.7h.7M344.0 341.8h.7M346.3 352.8h.7M342.8 348.0h.7M334.0 350.3h.7M340.0 353.6h.7M326.2 352.7h.7M335.3 341.9h.7M345.2 351.0h.7M349.9 359.2h.7M346.0 351.2h.7M343.9 349.8h.7M342.1 347.0h.7M333.5 356.4h.7M350.3 347.7h.7M345.2 350.2h.7M344.9 346.7h.7M333.3 342.7h.7M341.1 346.2h.7M337.1 349.0h.7M336.1 351.3h.7M356.8 352.8h.7M342.2 339.2h.7M336.4 343.9h.7M331.4 361.1h.7M350.5 346.8h.7M336.2 347.7h.7M336.3 348.7h.7M340.7 354.3h.7M337.4 349.4h.7M336.7 351.8h.7M350.2 346.3h.7M355.2 348.5h.7M343.7 355.4h.7M341.2 353.1h.7M345.4 347.0h.7M338.9 342.0h.7M341.0 353.6h.7M338.0 346.1h.7M351.9 343.1h.7M344.2 354.4h.7M330.9 342.5h.7M340.8 346.5h.7M349.8 354.4h.7M339.3 346.4h.7M345.9 345.3h.7M345.5 343.8h.7M335.2 345.5h.7M342.9 349.6h.7M354.6 361.0h.7M335.9 349.3h.7M343.6 356.4h.7M338.7 347.3h.7M336.9 349.5h.7M341.5 351.2h.7M346.1 350.6h.7M342.9 348.2h.7M349.5 345.5h.7M343.4 344.6h.7M337.4 348.3h.7M346.1 349.2h.7M339.8 346.4h.7M333.1 354.0h.7M348.1 345.9h.7M334.1 345.7h.7M343.4 348.5h.7M344.1 352.0h.7M337.2 348.5h.7M346.8 353.6h.7M336.9 345.8h.7M347.3 352.4h.7M340.3 344.6h.7M340.4 339.7h.7M348.5 352.6h.7M344.1 348.4h.7M336.2 347.3h.7M341.0 353.3h.7M336.2 340.7h.7M343.4 340.9h.7M343.7 352.9h.7M336.8 344.7h.7M344.2 357.9h.7M344.7 352.9h.7M341.3 356.8h.7M333.5 351.4h.7M343.1 348.7h.7M335.2 350.2h.7M331.9 346.5h.7M345.0 344.9h.7M347.3 339.3h.7M343.6 345.8h.7M334.4 347.4h.7M345.2 340.4h.7M335.4 348.9h.7M345.2 340.3h.7M346.0 353.3h.7M342.0 338.3h.7M339.7 345.6h.7M348.4 350.6h.7M342.8 332.5h.7M346.7 348.1h.7M346.3 349.0h.7M336.2 343.5h.7M341.7 352.7h.7M343.7 343.5h.7M334.1 341.5h.7M338.5 345.1h.7M344.0 347.0h.7M340.8 352.2h.7M343.6 353.1h.7M339.2 351.6h.7M338.3 346.4h.7M338.4 341.9h.7M343.7 343.4h.7M340.8 352.5h.7" stroke="#000" stroke-width="0.75" stroke-opacity="0.6" fill="none"/>
<path d="M340.5 352.1h.7M355.3 348.0h.7M353.6 349.0h.7M334.1 342.7h.7M347.6 362.8h.7M347.9 360.5h.7M345.6 338.5h.7M341.3 347.5h.7M340.9 344.1h.7M340.5 349.9h.7M338.8 337.5h.7M335.2 343.2h.7M333.7 351.2h.7M347.6 347.4h.7M339.7 343.8h.7M340.6 341.6h.7M344.9 343.3h.7M326.2 342.1h.7M348.2 355.5h.7M358.2 346.8h.7M339.3 347.7h.7M346.8 335.2h.7M346.5 332.2h.7M347.9 347.5h.7M340.0 351.7h.7M341.5 350.0h.7M339.7 340.3h.7M339.6 343.7h.7M324.3 339.6h.7M344.1 347.5h.7M349.9 353.8h.7M351.7 344.4h.7M347.3 339.0h.7M335.6 347.1h.7M339.9 347.6h.7M339.9 344.2h.7M332.2 323.8h.7M339.8 337.5h.7M349.3 347.8h.7M334.8 346.0h.7M341.7 343.0h.7M344.3 360.9h.7M338.0 353.6h.7M345.0 342.5h.7M357.7 348.1h.7M338.9 343.0h.7M342.2 344.3h.7M332.3 362.0h.7M357.0 356.1h.7M341.1 347.3h.7M349.6 350.1h.7M354.5 345.8h.7M354.1 340.3h.7M345.5 346.8h.7M341.9 349.1h.7M339.1 358.5h.7M338.6 352.9h.7M344.8 337.2h.7M348.8 337.1h.7M349.8 339.3h.7M348.4 350.4h.7M339.4 348.3h.7M357.6 337.4h.7M354.7 353.1h.7M337.3 340.0h.7M345.5 344.0h.7M340.6 343.3h.7M343.2 355.3h.7M348.3 339.8h.7M350.4 341.2h.7M342.7 353.2h.7M349.7 343.5h.7M346.5 344.9h.7M357.2 345.0h.7M342.8 361.8h.7M344.6 328.1h.7M343.9 359.2h.7M338.4 356.4h.7M354.6 344.4h.7M347.5 342.7h.7M344.4 338.6h.7M342.3 352.2h.7M341.1 343.6h.7M340.6 350.8h.7M336.1 356.8h.7M340.6 346.7h.7M352.5 345.7h.7M342.8 343.8h.7M335.7 354.5h.7M337.1 343.3h.7M335.8 342.9h.7M342.5 345.0h.7M340.4 338.8h.7M344.7 348.7h.7M354.4 345.6h.7M339.4 347.9h.7M346.2 348.3h.7M347.7 344.3h.7M359.7 356.0h.7M342.8 332.7h.7M344.0 354.7h.7M328.0 343.0h.7M333.0 345.9h.7M352.3 342.7h.7M332.9 338.5h.7M349.1 336.0h.7M346.4 348.6h.7M340.8 335.0h.7M339.2 346.1h.7M328.5 337.7h.7M336.5 335.8h.7M332.1 339.3h.7M339.0 352.8h.7M332.1 340.0h.7M338.7 341.6h.7M340.9 337.0h.7M341.8 342.5h.7M340.6 333.1h.7M356.4 346.2h.7M347.6 345.4h.7M344.3 351.3h.7M343.7 362.4h.7M332.9 350.7h.7M350.7 356.2h.7M332.8 342.9h.7M338.3 332.9h.7M344.7 348.7h.7M332.1 354.2h.7M351.0 351.4h.7M332.4 339.1h.7M343.2 337.3h.7M343.3 342.4h.7M336.3 343.0h.7M338.3 352.6h.7M347.2 348.7h.7M353.7 354.8h.7M339.0 350.6h.7M345.9 340.9h.7M335.8 348.4h.7M332.2 353.2h.7M350.3 337.7h.7M346.4 332.5h.7M348.1 343.6h.7M341.3 339.1h.7M357.5 343.5h.7M333.5 358.2h.7M348.1 353.0h.7M340.7 337.4h.7M342.7 341.2h.7M339.4 343.8h.7M343.0 346.2h.7M358.0 337.8h.7M346.6 359.1h.7M349.5 346.0h.7M348.3 338.3h.7M336.6 340.2h.7M354.3 358.3h.7M336.6 337.3h.7M347.5 336.7h.7M349.1 363.7h.7M350.9 353.1h.7M338.0 350.9h.7M341.5 357.2h.7M338.5 338.6h.7M357.5 359.4h.7M347.7 332.7h.7M334.8 349.9h.7M346.8 357.8h.7M335.9 336.6h.7M341.1 346.0h.7M346.4 347.9h.7M338.7 330.9h.7M350.3 339.9h.7M342.0 348.1h.7M350.3 355.7h.7M338.6 349.8h.7M337.2 345.5h.7M341.0 353.5h.7M341.6 335.3h.7M333.1 342.2h.7M355.3 360.1h.7M332.6 348.9h.7M347.1 346.8h.7M337.0 358.5h.7M336.8 344.1h.7M349.5 340.2h.7M340.1 342.8h.7M338.7 346.3h.7M345.1 346.9h.7M349.6 348.2h.7M339.3 327.2h.7M348.6 343.5h.7M341.4 341.3h.7M349.8 349.5h.7M346.4 341.5h.7M347.3 351.8h.7M341.7 340.2h.7M357.7 341.3h.7M347.1 359.6h.7M333.8 354.5h.7M346.7 347.7h.7M335.1 345.6h.7M339.2 356.4h.7M337.4 345.9h.7M354.9 356.9h.7M341.9 352.1h.7M339.0 350.0h.7M341.0 345.7h.7M335.0 341.5h.7M356.2 356.8h.7M348.2 346.5h.7M346.8 337.4h.7M332.5 345.7h.7M349.6 357.6h.7M346.9 341.1h.7M328.5 358.0h.7M335.0 353.7h.7M336.1 344.8h.7M338.8 334.5h.7M348.9 350.1h.7M336.9 343.6h.7M356.0 340.0h.7M341.3 354.9h.7M329.8 353.8h.7M347.7 341.4h.7M345.9 338.9h.7M342.8 360.7h.7M335.0 350.9h.7M348.2 354.1h.7M356.4 348.2h.7M330.0 342.6h.7M351.5 339.5h.7M334.8 345.8h.7M334.1 333.1h.7M330.0 346.6h.7M331.4 355.1h.7M351.0 338.1h.7M333.8 349.0h.7M345.6 346.4h.7M335.1 357.1h.7M347.8 346.7h.7M346.1 345.5h.7M326.0 355.1h.7M336.7 343.7h.7M340.4 346.9h.7M337.7 342.5h.7M343.2 335.4h.7M347.3 342.1h.7M345.8 338.4h.7M338.7 358.8h.7M346.2 332.4h.7M346.2 341.9h.7M338.4 350.7h.7M350.9 350.7h.7M355.2 343.3h.7M355.9 342.3h.7M334.9 342.6h.7M345.3 333.2h.7M344.5 337.3h.7M344.2 348.4h.7M334.8 354.2h.7M339.4 352.5h.7M342.3 356.0h.7M356.9 343.8h.7M342.7 332.5h.7M341.5 339.5h.7M342.8 343.1h.7M343.5 350.0h.7M346.0 356.9h.7M335.6 348.1h.7M346.8 348.7h.7M346.3 351.0h.7M353.7 341.8h.7M342.2 354.0h.7M353.3 342.2h.7M348.2 344.1h.7M339.0 356.8h.7M341.0 333.7h.7M338.0 330.0h.7M332.0 348.1h.7M344.8 341.3h.7M344.1 331.1h.7M333.3 347.9h.7M349.5 346.6h.7M351.5 340.5h.7M342.7 339.6h.7M344.2 341.5h.7M354.8 355.9h.7M335.7 343.2h.7M345.0 343.1h.7M353.0 338.6h.7M336.4 334.7h.7M344.9 359.8h.7M345.4 343.5h.7M339.8 354.2h.7M348.2 344.6h.7M345.0 329.7h.7M326.6 350.5h.7M342.1 338.0h.7M336.1 346.8h.7M330.6 340.5h.7M343.8 345.2h.7M352.1 343.8h.7M343.7 346.7h.7M332.2 339.6h.7M343.5 348.2h.7M337.4 338.9h.7M345.7 340.0h.7M332.7 357.1h.7M344.0 356.7h.7M348.0 344.5h.7M339.2 339.9h.7M348.7 338.0h.7M346.3 342.5h.7M345.5 355.6h.7M334.7 353.7h.7M344.0 348.6h.7M340.7 346.4h.7M344.3 353.5h.7M333.2 351.5h.7M353.1 345.3h.7M335.6 349.0h.7M354.9 335.7h.7M341.5 348.2h.7M363.5 344.4h.7M349.9 345.0h.7M330.3 342.7h.7M334.4 354.2h.7M343.7 342.8h.7M341.1 332.6h.7M343.5 343.7h.7M359.1 345.0h.7M353.3 343.9h.7M338.8 336.3h.7M340.3 340.9h.7M344.1 345.2h.7M339.7 345.8h.7M341.2 334.4h.7M354.7 340.7h.7M350.2 341.3h.7M350.6 335.6h.7M333.0 333.1h.7M343.2 331.4h.7M338.5 359.1h.7M342.8 356.4h.7M336.0 357.1h.7M344.1 343.8h.7M341.4 352.0h.7M343.5 346.7h.7" stroke="#000" stroke-width="0.75" stroke-opacity="0.3" fill="none"/>
<path d="M311.7 346.7h.7M320.7 336.7h.7M306.3 349.8h.7M306.7 345.6h.7M307.1 350.1h.7M326.5 344.3h.7M309.2 350.7h.7M307.1 337.1h.7M314.8 345.2h.7M305.9 352.9h.7M311.9 344.6h.7M312.0 347.3h.7M317.4 348.4h.7M305.0 341.5h.7M298.9 349.5h.7M299.2 354.9h.7M294.5 340.2h.7M307.9 337.9h.7M330.2 338.7h.7M311.1 346.7h.7M300.5 339.3h.7M290.9 357.0h.7M326.3 358.7h.7M295.3 354.4h.7M312.7 353.0h.7M306.7 353.3h.7M323.2 349.7h.7M328.9 344.0h.7M329.5 340.6h.7M328.8 328.3h.7M311.3 343.2h.7M313.1 354.1h.7M320.6 347.1h.7M330.6 335.7h.7M304.0 358.6h.7M313.7 335.1h.7M314.8 340.3h.7M330.7 351.7h.7M306.9 356.8h.7M303.1 355.2h.7M318.7 346.0h.7M294.9 349.3h.7M291.4 359.0h.7M298.0 335.6h.7M319.3 349.0h.7M308.2 361.6h.7M321.2 346.8h.7M301.3 331.9h.7M318.7 352.7h.7M303.5 340.9h.7M309.8 338.2h.7M312.9 352.5h.7M330.1 346.4h.7M315.1 352.0h.7M328.2 343.2h.7M296.7 345.9h.7M296.2 345.4h.7M310.9 350.3h.7M313.9 348.1h.7M308.2 351.2h.7M323.3 350.6h.7M329.4 343.2h.7M310.8 358.5h.7M314.8 350.0h.7M309.0 354.4h.7M306.2 342.9h.7M310.8 345.5h.7M321.5 344.0h.7M313.2 346.5h.7M315.4 343.6h.7M323.6 337.3h.7M306.7 344.6h.7M319.7 346.9h.7M317.4 345.0h.7M302.4 342.9h.7M307.5 345.5h.7M315.7 349.5h.7M323.4 345.3h.7M302.0 343.3h.7M313.1 350.0h.7M335.2 345.0h.7M334.7 355.4h.7M300.9 357.3h.7M326.8 353.6h.7M312.9 353.7h.7M306.2 348.6h.7M314.1 358.5h.7M310.5 354.1h.7M312.0 343.7h.7M315.6 351.4h.7M304.2 353.2h.7M302.7 344.3h.7M314.4 346.2h.7M298.7 340.4h.7M312.5 349.4h.7M306.8 350.1h.7M294.4 353.5h.7M317.2 348.8h.7M304.8 349.7h.7M314.7 354.0h.7M315.5 348.9h.7M304.3 354.6h.7M325.3 342.6h.7M319.9 348.5h.7M310.1 340.5h.7M330.8 333.3h.7M315.2 345.1h.7M325.1 343.1h.7M313.1 351.5h.7M316.8 344.0h.7M320.5 348.9h.7M323.1 342.9h.7M311.0 345.8h.7M302.4 351.2h.7M318.3 355.5h.7M308.6 351.0h.7M325.4 345.0h.7M312.9 348.7h.7M302.8 343.6h.7M325.3 346.7h.7M309.8 340.8h.7M314.6 354.7h.7M297.5 345.1h.7M326.6 354.1h.7M329.7 341.5h.7M318.3 342.3h.7M317.8 344.8h.7M315.7 355.5h.7M315.7 345.9h.7M312.9 349.4h.7M306.2 350.3h.7M320.7 355.9h.7M286.5 345.3h.7M298.4 355.7h.7M340.9 344.1h.7M314.6 354.4h.7M305.5 346.2h.7M315.4 343.9h.7M325.0 345.7h.7M319.1 362.1h.7M307.7 354.4h.7M303.6 357.0h.7M323.5 346.8h.7M325.3 355.4h.7M328.2 345.2h.7M312.5 354.6h.7M294.1 347.5h.7M318.3 350.3h.7M335.6 354.5h.7M316.3 349.9h.7M296.4 349.6h.7M314.8 346.1h.7M313.3 351.4h.7M300.3 346.6h.7M292.4 358.4h.7M297.9 340.2h.7" stroke="#000" stroke-width="0.75" stroke-opacity="0.35" fill="none"/>
<path d="M354.3 308.4h.7M354.5 304.9h.7M373.0 294.4h.7M352.2 318.5h.7M355.3 326.8h.7M362.2 290.5h.7M346.5 337.9h.7M345.7 298.0h.7M336.0 324.6h.7M358.8 314.8h.7M334.6 324.5h.7M337.8 300.5h.7M353.8 310.4h.7M373.7 298.6h.7M343.1 326.6h.7M341.6 320.2h.7M358.9 323.6h.7M336.2 339.5h.7M368.1 303.3h.7M336.7 327.1h.7M329.6 323.8h.7M359.7 304.6h.7M332.3 322.5h.7M342.6 322.7h.7M359.6 294.2h.7M360.0 323.7h.7M353.7 310.0h.7M344.8 356.7h.7M351.0 309.7h.7M341.2 316.5h.7M330.3 325.0h.7M358.4 315.7h.7M358.0 321.5h.7M355.3 313.3h.7M348.1 334.9h.7M364.7 306.9h.7M355.8 300.7h.7M353.0 339.5h.7M347.5 329.1h.7M348.7 322.7h.7M343.3 321.0h.7M352.2 353.6h.7M335.2 307.8h.7M333.3 326.8h.7M322.5 317.6h.7M368.4 320.2h.7M354.4 327.0h.7M344.1 305.7h.7M345.2 295.2h.7M342.4 326.1h.7M360.9 303.5h.7M342.2 317.7h.7M351.1 319.0h.7M367.6 316.9h.7M355.9 310.1h.7M362.4 329.9h.7M351.4 317.2h.7M377.4 303.3h.7M353.5 311.7h.7M354.1 333.8h.7" stroke="#000" stroke-width="0.75" stroke-opacity="0.25" fill="none"/>
<line x1="326.60" y1="259.80" x2="326.60" y2="365.80" stroke="#8a8a8a" stroke-width="1"/>
<line x1="284.60" y1="328.90" x2="388.20" y2="328.90" stroke="#8a8a8a" stroke-width="1"/>
<line x1="284.60" y1="259.80" x2="284.60" y2="365.80" stroke="#666" stroke-width="1"/>
<line x1="284.60" y1="365.80" x2="388.20" y2="365.80" stroke="#666" stroke-width="1"/>
<rect x="405.4" y="259.6" width="103.90000000000003" height="106.19999999999999" fill="#fff" stroke="#8a8a8a" stroke-width="1"/>
<path d="M456.0 312.4h.7M454.2 308.0h.7M460.7 308.2h.7M459.8 309.4h.7M452.3 301.9h.7M457.7 316.7h.7M457.8 302.8h.7M454.9 307.7h.7M465.0 304.6h.7M461.6 308.5h.7M456.6 302.7h.7M457.7 303.8h.7M461.4 298.5h.7M464.7 311.4h.7M461.7 315.1h.7M461.8 298.8h.7M458.8 309.8h.7M454.8 301.8h.7M460.9 310.1h.7M456.2 306.3h.7M455.7 304.6h.7M458.2 312.9h.7M449.7 305.8h.7M467.3 309.1h.7M459.3 311.7h.7M453.0 301.4h.7M449.4 300.1h.7M459.9 311.8h.7M456.2 304.1h.7M460.7 310.6h.7M459.9 297.8h.7M455.5 294.7h.7M459.8 303.2h.7M454.9 315.1h.7M465.7 309.9h.7M460.0 308.4h.7M455.3 307.2h.7M468.9 303.1h.7M454.9 308.3h.7M463.4 311.7h.7M453.2 306.8h.7M457.1 301.3h.7M458.9 305.1h.7M463.5 309.7h.7M454.2 307.9h.7M456.6 304.3h.7M455.8 312.9h.7M456.2 298.8h.7M454.3 311.6h.7M470.2 302.2h.7M456.6 305.8h.7M450.8 309.5h.7M458.2 308.9h.7M470.7 306.2h.7M462.8 311.7h.7M455.0 304.5h.7M467.0 311.1h.7M459.3 302.0h.7M463.3 310.2h.7M470.5 315.0h.7M462.9 308.9h.7M458.8 304.7h.7M460.2 308.7h.7M462.1 313.0h.7M460.2 304.8h.7M462.9 315.4h.7M454.0 309.6h.7M461.5 310.2h.7M461.2 307.0h.7M457.9 316.0h.7M467.9 300.4h.7M444.7 309.7h.7M454.8 304.9h.7M449.8 309.3h.7M458.2 304.8h.7M463.4 319.8h.7M466.5 313.4h.7M456.3 310.8h.7M458.3 313.3h.7M461.7 307.3h.7M461.5 303.9h.7M462.8 315.1h.7M456.5 310.3h.7M449.4 312.2h.7M463.3 302.3h.7M468.0 308.1h.7M449.1 300.6h.7M463.3 306.1h.7M464.5 299.7h.7M458.0 312.4h.7M454.8 310.9h.7M456.5 309.2h.7M460.3 318.8h.7M451.8 311.4h.7M465.6 301.8h.7M458.9 319.2h.7M464.2 292.5h.7M457.2 298.9h.7M460.2 303.8h.7M455.4 303.3h.7M460.1 305.1h.7M453.6 306.4h.7M460.7 303.2h.7M464.5 299.1h.7M460.7 305.5h.7M467.1 304.3h.7M454.9 300.7h.7M469.3 310.6h.7M452.6 305.8h.7M453.3 315.2h.7M460.8 297.2h.7M459.6 312.1h.7M458.5 309.9h.7M457.9 308.6h.7M459.7 303.9h.7M460.4 308.3h.7M458.3 304.0h.7M453.0 308.7h.7M463.0 295.3h.7M455.6 314.3h.7M463.5 303.9h.7M465.9 302.5h.7M454.2 317.3h.7M456.1 306.4h.7M449.5 302.4h.7M452.1 306.8h.7M448.5 312.9h.7M456.6 304.4h.7M455.0 311.3h.7M466.9 305.4h.7M467.3 315.6h.7M465.8 309.0h.7M450.4 310.9h.7M456.3 308.5h.7M448.2 306.1h.7M459.8 302.8h.7M460.1 316.0h.7M459.8 304.0h.7M471.5 296.6h.7M453.5 309.6h.7M455.3 295.9h.7M459.9 311.7h.7M454.2 314.9h.7M461.2 313.5h.7M450.2 307.5h.7M467.2 317.7h.7M465.7 307.5h.7M459.5 304.3h.7M464.5 304.0h.7M459.2 297.0h.7M450.3 316.5h.7M458.8 308.6h.7M446.5 307.3h.7M469.8 299.9h.7M445.5 306.7h.7M455.6 306.4h.7M451.6 300.6h.7M451.8 310.8h.7M458.2 311.7h.7M452.6 310.5h.7M456.1 308.0h.7M463.6 307.7h.7M456.6 299.0h.7M458.8 311.5h.7M455.0 307.2h.7M448.8 300.7h.7M460.7 314.1h.7M456.8 299.0h.7M456.4 299.5h.7M457.0 317.3h.7M460.1 306.7h.7M464.2 305.6h.7M460.3 308.5h.7M460.9 300.0h.7M462.4 312.0h.7M446.0 293.7h.7M453.6 315.1h.7M458.6 311.0h.7M461.5 312.0h.7M455.0 304.5h.7M460.6 310.6h.7M461.7 309.2h.7M455.8 313.1h.7M461.1 312.9h.7M444.5 312.7h.7M445.1 308.6h.7M454.8 308.1h.7M455.9 305.9h.7M459.6 309.3h.7M454.1 294.5h.7M454.2 310.3h.7M453.8 309.7h.7M456.5 302.7h.7M464.9 316.0h.7M457.9 307.2h.7M463.8 300.7h.7M453.7 313.3h.7M463.5 305.0h.7M454.2 309.3h.7M450.7 304.9h.7M457.2 294.9h.7M461.8 311.4h.7M464.4 300.1h.7M451.4 303.3h.7M451.3 318.1h.7M453.1 305.9h.7M459.6 309.8h.7M466.5 301.9h.7M463.4 308.3h.7M452.0 308.3h.7M450.7 315.9h.7M454.4 312.7h.7M465.7 304.3h.7M453.5 308.2h.7M452.7 312.1h.7M459.5 303.6h.7M454.7 311.2h.7M450.4 316.2h.7M454.1 306.5h.7M453.4 315.9h.7M463.1 314.2h.7M462.1 308.0h.7M467.9 310.9h.7M460.9 310.5h.7M462.6 308.9h.7M457.6 299.2h.7M470.0 300.8h.7M446.5 303.8h.7M469.3 313.8h.7M455.1 308.9h.7M458.4 297.2h.7M456.6 309.0h.7M465.0 301.3h.7M445.9 299.3h.7M460.3 307.9h.7M459.3 308.3h.7M456.5 300.4h.7M461.0 309.5h.7M461.7 314.0h.7M451.6 295.4h.7M448.5 318.6h.7M453.4 309.6h.7M458.4 311.3h.7M476.5 304.8h.7M457.5 304.4h.7M459.9 310.2h.7M453.1 314.3h.7M464.9 309.8h.7M457.9 306.3h.7M449.3 310.9h.7M453.0 304.9h.7M464.1 302.7h.7M455.6 312.0h.7M468.9 303.9h.7M464.7 304.1h.7M460.7 310.0h.7M452.1 312.8h.7M468.6 307.8h.7M460.0 301.4h.7M468.5 307.8h.7M451.4 311.5h.7M450.3 303.9h.7M446.6 314.7h.7M470.9 304.2h.7M454.8 304.5h.7M455.3 310.4h.7M466.7 302.3h.7M461.0 298.1h.7M467.0 307.0h.7M454.6 315.5h.7M457.9 314.6h.7M464.5 316.1h.7M454.0 307.8h.7M460.6 306.5h.7M467.0 303.8h.7M464.1 314.6h.7M447.6 302.5h.7M453.4 304.7h.7M460.7 306.6h.7M458.9 305.1h.7M458.0 310.0h.7M462.7 303.4h.7M457.9 303.5h.7M457.5 300.0h.7M463.8 311.0h.7M457.8 303.9h.7M455.9 304.0h.7M449.9 316.0h.7M476.9 301.1h.7M452.0 310.5h.7M461.9 299.3h.7M447.7 310.3h.7M447.3 314.9h.7M455.7 307.9h.7M458.5 304.6h.7M457.7 305.9h.7M465.5 307.0h.7M458.3 304.7h.7M454.9 303.7h.7M458.6 317.1h.7M464.7 308.7h.7M467.8 312.8h.7M459.7 306.6h.7M452.4 308.8h.7M456.7 299.3h.7M451.3 317.6h.7M459.7 310.1h.7M459.6 305.1h.7M461.1 313.1h.7M456.8 310.2h.7M464.2 305.0h.7M459.4 303.7h.7M461.9 305.6h.7M464.9 303.5h.7M468.0 305.9h.7M453.8 302.8h.7M462.2 303.0h.7M468.6 314.2h.7M461.4 300.1h.7M458.4 303.7h.7M448.4 309.7h.7M470.8 304.7h.7M463.0 314.2h.7M453.1 305.7h.7M460.0 310.0h.7M452.1 308.6h.7M457.9 312.4h.7M449.6 304.6h.7M455.7 305.9h.7M462.5 304.2h.7M473.8 303.8h.7M463.2 312.8h.7M463.9 306.4h.7M453.9 306.2h.7M462.2 308.1h.7M461.8 310.5h.7M453.6 302.6h.7M466.6 305.0h.7M449.6 317.2h.7M453.8 302.6h.7M463.9 301.6h.7M453.6 312.9h.7M453.9 320.5h.7M459.0 321.5h.7M459.2 307.8h.7M454.9 306.3h.7M455.7 307.4h.7M462.8 300.9h.7M453.4 296.6h.7M466.9 307.1h.7M458.4 307.2h.7M464.1 309.2h.7M463.3 306.6h.7M457.8 307.2h.7M448.1 313.2h.7M449.7 302.3h.7M462.3 307.8h.7M463.1 316.4h.7M468.9 314.7h.7M457.2 318.2h.7M453.6 307.1h.7M464.1 306.4h.7M457.8 305.7h.7M466.1 294.7h.7M465.6 313.0h.7M458.1 310.4h.7M453.1 313.3h.7M475.6 302.7h.7M466.3 307.2h.7M456.6 305.0h.7M457.4 301.0h.7M450.9 316.1h.7M458.4 310.4h.7M460.2 310.0h.7M450.0 302.6h.7M462.0 312.7h.7M452.1 304.5h.7M452.5 310.9h.7M460.4 307.7h.7M454.9 309.3h.7M458.7 303.6h.7M460.4 304.0h.7M463.8 310.8h.7M454.6 310.6h.7M458.9 303.8h.7M453.4 298.9h.7M452.2 309.3h.7M465.3 304.2h.7M459.4 309.3h.7M462.9 309.8h.7M465.4 311.5h.7M454.2 309.6h.7M445.4 306.6h.7M458.6 310.5h.7M456.8 311.8h.7M465.9 303.1h.7M455.5 308.9h.7M461.2 308.2h.7M463.2 301.4h.7M462.8 313.6h.7M464.7 309.7h.7M457.2 309.6h.7M458.1 299.2h.7M455.1 307.3h.7M455.6 302.7h.7M457.2 305.6h.7M458.9 307.2h.7M459.5 312.7h.7M459.3 309.6h.7M451.7 292.2h.7M456.3 311.0h.7M456.6 304.3h.7M451.6 312.1h.7M455.5 308.8h.7M464.8 310.3h.7M471.1 306.8h.7M463.9 311.1h.7M454.8 307.7h.7M455.3 302.2h.7M460.2 303.5h.7M467.9 303.6h.7M455.5 308.0h.7M455.6 307.8h.7M455.1 300.1h.7M445.0 300.8h.7M467.0 309.8h.7M459.4 305.1h.7M457.7 309.1h.7M450.7 303.3h.7M453.5 314.0h.7M452.6 313.6h.7M455.9 321.7h.7M458.1 307.7h.7M466.1 312.0h.7M463.8 301.9h.7M464.9 316.2h.7M457.9 305.0h.7M452.4 312.8h.7M460.1 307.5h.7M451.6 315.9h.7M463.4 307.4h.7M466.8 302.6h.7M463.4 302.3h.7M466.4 306.1h.7M465.3 305.3h.7M460.7 313.4h.7M453.4 308.0h.7M453.8 311.9h.7M455.1 305.6h.7M457.4 313.6h.7M452.7 307.4h.7M456.7 304.6h.7M454.1 306.7h.7M459.6 299.5h.7M459.8 301.3h.7M458.6 319.4h.7M453.1 307.2h.7M457.1 312.6h.7M455.8 298.2h.7M449.5 308.4h.7M459.9 313.0h.7M455.5 311.0h.7M452.5 314.2h.7M458.1 304.0h.7M459.5 316.6h.7M453.8 301.1h.7M452.8 301.5h.7M458.2 309.3h.7M457.6 308.5h.7M465.1 306.0h.7M451.5 295.6h.7M459.9 304.0h.7M457.1 309.6h.7M461.1 299.3h.7M453.1 307.9h.7M457.7 313.5h.7M455.7 296.8h.7M465.1 299.0h.7M453.1 309.5h.7M452.6 320.4h.7M459.8 310.3h.7M456.1 319.0h.7M461.5 303.8h.7M465.5 298.7h.7M455.2 309.0h.7M459.3 302.5h.7M467.3 315.2h.7M453.3 309.4h.7M454.9 305.3h.7M464.0 308.2h.7M457.9 308.0h.7M451.9 313.8h.7M454.3 314.3h.7M455.9 305.1h.7M466.8 308.5h.7M454.9 304.7h.7M461.9 317.2h.7M461.9 305.5h.7M452.2 304.0h.7M457.8 308.8h.7M454.8 314.2h.7M453.1 303.8h.7M461.3 310.0h.7M456.3 312.5h.7M450.6 316.0h.7M470.7 317.7h.7M459.2 317.7h.7M458.8 314.4h.7M457.4 308.5h.7M461.4 298.4h.7M457.3 316.4h.7M442.1 309.5h.7M463.7 309.2h.7M459.6 314.7h.7M460.4 297.7h.7M453.2 306.0h.7M459.3 305.2h.7M457.9 316.2h.7M442.1 313.5h.7M463.7 310.6h.7M458.6 307.8h.7M460.5 308.8h.7M454.4 311.6h.7M453.9 307.3h.7M456.5 301.5h.7M461.9 307.1h.7M452.0 307.1h.7M450.8 315.0h.7M461.4 317.8h.7M455.3 311.2h.7M453.1 303.1h.7M458.0 309.6h.7M463.7 306.1h.7M464.7 312.5h.7M453.6 306.6h.7M453.4 316.3h.7M455.4 312.1h.7M463.6 306.2h.7M455.8 309.3h.7M454.2 300.9h.7M453.1 309.3h.7M459.6 316.6h.7M448.3 310.1h.7M452.1 313.5h.7M462.4 308.2h.7M466.7 305.6h.7M455.5 302.1h.7M454.8 308.1h.7M462.3 314.1h.7M457.0 303.7h.7M456.6 305.3h.7M455.9 305.4h.7M453.6 307.2h.7M455.6 306.6h.7M450.8 308.3h.7M461.7 310.8h.7M455.4 301.6h.7M451.3 301.4h.7M454.9 305.9h.7M448.6 311.0h.7M449.9 304.0h.7M454.5 311.8h.7M468.7 305.7h.7M457.0 305.5h.7M457.4 306.6h.7M472.2 301.9h.7M457.9 303.4h.7M460.5 304.8h.7M461.7 301.9h.7M470.2 308.6h.7M448.7 311.1h.7M455.9 301.6h.7M460.9 304.8h.7M462.6 304.7h.7M463.5 308.3h.7M460.5 308.3h.7M456.5 305.6h.7M461.0 311.1h.7M456.2 319.0h.7M467.9 301.6h.7M464.5 307.1h.7M459.8 303.5h.7M467.6 303.3h.7M458.0 303.8h.7M469.2 313.9h.7M451.2 305.2h.7M460.5 305.3h.7M456.5 302.0h.7M459.9 301.9h.7M463.1 319.8h.7M456.7 315.9h.7M460.6 304.1h.7M456.6 302.6h.7M459.1 311.1h.7M463.6 306.1h.7M451.9 307.1h.7M467.7 308.9h.7M458.2 296.9h.7M456.1 310.3h.7M453.3 314.4h.7M455.4 303.1h.7M455.3 307.0h.7M464.0 304.6h.7M448.7 307.1h.7M461.4 315.4h.7M452.3 315.1h.7M462.2 309.8h.7M454.3 303.0h.7M453.2 312.3h.7M459.7 313.0h.7M468.5 307.6h.7M458.2 317.3h.7M451.3 305.2h.7M456.5 305.6h.7M459.3 303.2h.7M464.9 300.6h.7M454.0 298.9h.7M450.8 310.5h.7M462.0 306.5h.7M463.2 310.7h.7M455.3 307.3h.7M460.5 317.8h.7M456.1 309.4h.7M461.5 313.7h.7M460.8 313.0h.7M452.6 306.2h.7M447.8 307.3h.7M471.3 308.8h.7M459.0 308.9h.7M459.3 300.8h.7M454.7 306.6h.7M459.4 303.1h.7M457.9 303.8h.7M451.2 304.2h.7M454.1 311.8h.7M465.9 310.5h.7M457.3 304.7h.7M449.9 304.9h.7M467.1 313.4h.7M459.7 306.3h.7M458.5 309.7h.7M458.5 309.7h.7M454.3 307.8h.7M456.6 313.0h.7M451.7 314.1h.7M458.0 305.0h.7M458.6 308.2h.7M457.2 309.7h.7M455.3 298.9h.7M462.3 307.4h.7M467.7 309.5h.7M447.5 313.8h.7M454.7 310.3h.7M470.7 313.1h.7M452.5 307.1h.7M449.7 310.9h.7M461.6 302.3h.7M461.0 312.3h.7M462.9 304.1h.7M454.7 301.9h.7M451.4 309.1h.7M458.7 314.1h.7M460.0 305.9h.7M450.7 315.4h.7M459.4 307.4h.7M453.0 302.2h.7M462.0 302.6h.7M461.7 310.7h.7M456.4 299.3h.7M460.8 314.7h.7M454.0 301.2h.7M464.5 308.3h.7M455.1 313.7h.7M457.0 309.8h.7M456.3 303.7h.7M459.7 303.2h.7M448.7 304.8h.7M465.3 313.1h.7M470.5 312.6h.7M467.4 308.8h.7M456.1 309.9h.7M453.3 311.3h.7M456.0 308.9h.7M453.8 306.9h.7M463.9 306.5h.7M454.8 309.0h.7M463.3 306.6h.7M452.1 299.7h.7M451.1 312.9h.7M458.0 310.0h.7M464.4 309.0h.7M461.1 305.0h.7M449.7 310.7h.7M458.0 310.5h.7M452.6 306.8h.7M469.6 303.3h.7M459.0 314.2h.7M457.2 308.2h.7M446.8 311.5h.7M456.1 314.0h.7M458.0 305.7h.7M460.9 306.4h.7M455.7 315.3h.7M463.9 308.1h.7M462.9 311.7h.7M461.7 307.8h.7M458.9 309.6h.7M461.6 309.3h.7M455.5 307.2h.7M461.0 302.6h.7M458.5 311.4h.7M459.4 306.1h.7M458.4 305.1h.7M463.9 305.7h.7M449.4 301.5h.7M460.1 308.6h.7M455.9 301.0h.7M457.7 303.4h.7M454.9 307.6h.7M454.3 309.1h.7M454.4 305.3h.7M457.3 314.9h.7M467.1 312.3h.7M454.5 307.6h.7M463.5 311.6h.7M449.6 307.3h.7M454.4 311.3h.7M462.0 304.9h.7M470.2 306.2h.7M471.9 306.7h.7M458.0 317.0h.7M455.6 305.2h.7M466.6 307.4h.7M461.1 301.3h.7M468.3 312.5h.7M460.5 311.1h.7M455.8 305.2h.7M449.9 309.4h.7M465.3 311.8h.7M463.5 311.1h.7M453.5 301.1h.7M462.0 308.4h.7M463.9 306.2h.7M453.7 309.8h.7M455.4 299.4h.7M455.2 303.2h.7M452.4 304.9h.7M463.7 319.2h.7M468.0 305.5h.7M464.8 307.2h.7M460.7 304.2h.7M458.1 299.3h.7M468.3 303.8h.7M461.7 304.7h.7M460.0 301.8h.7M456.4 312.1h.7M461.8 298.0h.7M463.2 301.1h.7M460.1 310.2h.7M455.0 306.0h.7M457.2 309.6h.7M463.5 314.3h.7M460.3 317.5h.7M453.3 316.4h.7M457.1 311.4h.7M457.8 308.0h.7M453.5 309.5h.7M469.6 308.3h.7M458.4 307.6h.7M462.4 306.6h.7M458.5 308.7h.7M465.6 312.3h.7M452.7 304.5h.7M458.6 311.8h.7M463.8 306.6h.7M470.2 306.8h.7M466.2 314.6h.7M467.2 308.6h.7M461.7 300.0h.7M448.7 304.6h.7M462.4 312.8h.7M457.9 312.7h.7M461.7 315.1h.7M449.8 303.5h.7M453.3 302.4h.7M467.5 303.0h.7M454.0 305.6h.7M463.3 305.3h.7M462.5 310.3h.7M455.0 295.9h.7M453.5 301.4h.7M467.5 304.0h.7M452.6 309.4h.7M458.8 303.0h.7M464.5 312.1h.7M460.0 303.8h.7M453.7 297.5h.7M460.6 309.5h.7M453.5 307.7h.7M476.5 302.0h.7M449.1 310.6h.7M456.2 305.1h.7M461.9 306.9h.7M464.0 310.1h.7M464.9 308.2h.7M446.7 314.3h.7M449.2 312.7h.7M459.9 300.7h.7M458.9 311.9h.7M452.9 307.8h.7M454.4 302.6h.7M455.1 313.9h.7M462.3 307.4h.7M458.1 308.2h.7M460.1 308.5h.7M449.1 312.1h.7M453.8 294.7h.7M462.4 301.6h.7M457.7 307.1h.7M455.3 310.2h.7M457.0 306.2h.7M453.3 306.2h.7M452.8 307.8h.7M465.8 312.5h.7M460.9 300.8h.7M464.2 312.2h.7M469.8 296.4h.7M458.6 305.9h.7M464.5 302.2h.7M456.4 319.0h.7M464.0 297.7h.7M458.6 314.3h.7M455.1 310.5h.7M459.0 300.3h.7M455.1 313.2h.7M465.0 304.6h.7M464.7 304.0h.7M459.9 307.4h.7M451.6 309.1h.7M456.4 294.0h.7M453.9 303.4h.7M453.9 302.7h.7M454.7 295.4h.7M463.4 307.9h.7M459.9 306.2h.7M458.9 306.2h.7M452.5 300.0h.7M458.9 312.6h.7M459.8 315.5h.7M451.0 306.2h.7M455.1 313.6h.7M467.8 304.9h.7M462.5 306.3h.7M453.0 307.0h.7M452.8 315.2h.7M461.8 313.4h.7M460.5 295.5h.7M462.9 308.0h.7M445.4 308.0h.7M464.1 316.0h.7M452.9 311.4h.7M460.3 306.7h.7M456.9 310.2h.7M461.7 310.8h.7M456.3 301.0h.7M465.8 314.0h.7M455.4 307.4h.7M462.9 298.8h.7M461.3 319.6h.7M460.0 304.0h.7M469.8 307.6h.7M459.7 305.4h.7M459.5 298.6h.7M451.4 300.2h.7M463.5 307.1h.7M464.8 297.4h.7M455.2 314.8h.7M454.1 298.2h.7M454.4 305.8h.7M458.4 314.0h.7M465.8 315.2h.7M461.7 305.0h.7M455.8 300.1h.7M465.5 313.8h.7M459.0 303.1h.7M462.2 309.9h.7M459.4 301.7h.7M459.8 304.7h.7M462.6 310.5h.7M460.9 305.4h.7M466.9 311.4h.7M465.5 311.7h.7M462.2 309.5h.7M452.6 298.4h.7M453.3 310.6h.7M463.5 308.4h.7M459.0 316.7h.7M456.3 298.6h.7M450.0 305.9h.7M462.4 311.2h.7M457.3 311.6h.7M458.2 303.9h.7M456.4 311.3h.7M463.7 301.9h.7M453.1 308.1h.7M470.2 301.7h.7M451.6 309.6h.7M461.3 304.5h.7M458.4 309.9h.7M448.9 307.4h.7M461.8 312.1h.7M464.9 307.1h.7M450.6 314.2h.7M462.7 304.3h.7M464.2 312.7h.7M457.7 295.7h.7M455.9 303.7h.7M453.9 307.1h.7M452.6 309.4h.7M468.9 301.6h.7M464.2 304.9h.7M461.5 306.9h.7M465.5 304.0h.7M462.5 303.6h.7M459.8 307.4h.7M464.5 299.6h.7M451.1 314.4h.7M460.6 316.0h.7M452.9 308.6h.7M461.8 316.3h.7M458.2 305.3h.7M462.4 307.0h.7M454.4 311.3h.7M448.1 302.4h.7M466.0 305.0h.7M456.7 309.4h.7M464.7 310.1h.7M453.2 304.7h.7M464.3 306.9h.7M455.0 311.9h.7M464.8 318.3h.7M452.6 304.0h.7M454.7 309.3h.7M455.9 313.1h.7M443.8 312.3h.7M455.0 306.1h.7M461.6 308.5h.7M453.0 315.0h.7M461.7 305.1h.7M459.6 302.0h.7M451.8 306.0h.7M460.5 308.0h.7M454.3 300.6h.7M449.3 315.5h.7M460.5 303.5h.7M465.0 310.2h.7M456.2 304.4h.7M464.7 309.1h.7M467.4 309.3h.7M455.3 304.5h.7M454.7 308.8h.7M459.9 310.5h.7M461.0 302.3h.7M457.4 302.8h.7M461.1 300.9h.7M455.3 303.2h.7M455.1 306.2h.7M466.8 306.2h.7M450.7 306.0h.7M462.6 310.3h.7M459.8 317.4h.7M464.6 308.0h.7M465.1 300.8h.7M457.6 303.2h.7M459.5 315.6h.7M455.8 315.4h.7M452.9 314.6h.7M449.3 303.3h.7M463.9 307.0h.7M459.3 307.4h.7M459.5 306.6h.7M453.2 306.1h.7M459.1 303.0h.7M461.0 316.3h.7M449.6 304.8h.7M457.0 307.6h.7M459.0 303.9h.7M458.3 307.5h.7M458.0 315.2h.7M459.2 300.1h.7M450.0 310.4h.7M456.6 304.4h.7M451.1 306.0h.7M458.0 304.1h.7M456.6 311.9h.7M462.8 310.2h.7M457.6 300.7h.7M462.7 315.0h.7M465.4 313.3h.7M460.0 309.4h.7M458.4 313.8h.7M457.0 318.2h.7M462.7 305.9h.7M458.5 299.5h.7M454.5 306.0h.7M471.8 303.4h.7M463.5 307.9h.7M456.9 310.6h.7M447.7 312.2h.7M469.0 309.0h.7M458.2 308.3h.7M462.1 305.1h.7M459.2 310.0h.7M456.6 309.4h.7M460.3 311.1h.7M453.1 304.8h.7M456.2 313.5h.7M459.9 299.3h.7M451.6 317.2h.7M460.3 301.0h.7M453.6 308.2h.7M466.3 315.6h.7M456.5 306.0h.7M468.9 302.6h.7M467.0 309.2h.7M459.0 313.9h.7M461.1 303.3h.7M450.2 307.6h.7M461.3 314.3h.7M444.3 314.2h.7M461.9 315.1h.7M462.8 308.6h.7M460.8 309.5h.7M455.1 306.9h.7M459.2 305.3h.7M450.5 300.3h.7M461.2 310.1h.7M459.1 301.7h.7M463.1 305.5h.7M447.2 315.3h.7M450.4 318.8h.7M461.4 305.3h.7M445.7 304.0h.7M466.6 314.3h.7M459.9 298.9h.7M456.4 306.1h.7M461.0 306.9h.7M460.4 299.3h.7M455.0 314.7h.7M450.6 312.1h.7M471.1 310.8h.7M450.9 313.7h.7M448.4 309.2h.7M456.3 313.7h.7M464.9 308.5h.7M468.2 312.4h.7M455.9 302.6h.7M471.9 305.5h.7M460.7 306.9h.7M455.9 299.5h.7M457.7 306.9h.7M463.8 304.9h.7M450.0 302.1h.7M458.3 308.8h.7M462.4 305.6h.7M461.4 308.2h.7M467.7 307.2h.7M459.3 310.3h.7M465.1 302.9h.7M455.9 306.1h.7M446.9 314.0h.7M464.3 307.6h.7M476.8 313.9h.7M469.5 315.4h.7M463.4 300.4h.7M466.8 309.6h.7M452.0 307.8h.7M462.6 312.4h.7M459.5 304.9h.7M462.7 303.7h.7M458.1 311.3h.7M450.7 309.4h.7M447.8 302.9h.7M451.8 307.1h.7M462.4 307.2h.7M463.5 308.0h.7M457.4 310.0h.7M457.2 308.2h.7M464.2 304.6h.7M464.8 302.0h.7M457.3 298.8h.7M455.6 315.5h.7M460.4 313.9h.7M450.5 302.4h.7M461.0 311.7h.7M463.1 299.1h.7M461.3 307.1h.7M459.2 309.9h.7M457.0 299.0h.7M452.7 300.2h.7M451.3 306.8h.7M465.6 303.9h.7M454.3 301.7h.7M449.1 307.8h.7M455.9 306.3h.7M453.3 309.9h.7M452.0 310.3h.7M454.9 311.5h.7M453.7 309.7h.7M460.9 307.1h.7M467.4 308.4h.7M453.7 311.0h.7M454.0 304.8h.7M458.6 308.4h.7M467.8 298.7h.7M457.1 313.2h.7M457.6 309.1h.7M466.8 301.3h.7M458.7 311.5h.7M455.3 298.7h.7M453.1 308.5h.7M459.5 316.8h.7M465.7 299.7h.7M464.2 312.1h.7M467.3 306.7h.7M455.5 308.2h.7M466.9 310.6h.7M467.8 311.5h.7M455.3 302.4h.7M468.6 299.9h.7M456.6 305.9h.7M453.5 304.6h.7M458.5 319.4h.7M458.1 304.9h.7M459.2 312.2h.7M454.0 305.5h.7M449.0 311.0h.7M462.2 315.0h.7M452.0 318.4h.7M463.3 306.1h.7M456.4 305.9h.7M451.9 311.4h.7M455.2 303.9h.7M461.3 308.1h.7M455.3 306.3h.7M455.8 314.3h.7M464.0 303.8h.7M458.3 314.4h.7M456.9 316.5h.7M460.9 310.9h.7M447.2 311.8h.7M460.4 310.4h.7M461.1 310.2h.7M455.7 312.0h.7M458.8 302.2h.7M452.9 308.3h.7M460.3 296.4h.7M447.2 312.8h.7M458.4 321.9h.7M450.1 306.3h.7M455.2 310.3h.7M466.2 315.6h.7M453.0 313.7h.7M451.9 309.1h.7M459.4 310.6h.7M454.1 314.2h.7M458.1 307.4h.7M457.0 302.1h.7M462.4 309.2h.7M461.0 316.9h.7M453.8 306.1h.7M458.5 311.8h.7M457.5 312.2h.7M461.0 298.6h.7M454.8 297.3h.7M456.9 305.4h.7M461.7 308.4h.7M458.2 313.9h.7M461.8 301.3h.7M454.7 309.2h.7M467.8 306.5h.7M457.6 308.8h.7M462.8 307.0h.7M460.1 305.4h.7M455.5 303.5h.7M462.1 304.7h.7M461.5 309.5h.7M463.8 294.0h.7M453.2 301.3h.7M457.6 311.6h.7M472.4 315.3h.7M465.9 309.4h.7M456.4 310.2h.7M446.6 312.2h.7M458.5 310.6h.7M452.9 302.0h.7M455.0 307.3h.7M460.4 305.7h.7M460.4 310.9h.7M452.2 307.0h.7M450.0 304.7h.7M463.4 303.9h.7M468.7 310.1h.7M463.4 308.0h.7M463.2 313.0h.7M459.1 304.8h.7M455.5 317.3h.7M457.5 305.2h.7M454.6 299.0h.7M455.8 309.1h.7M455.8 303.7h.7M460.7 309.8h.7M456.1 309.1h.7M453.2 311.9h.7M453.1 305.8h.7M459.2 305.4h.7M452.2 318.1h.7M466.8 298.7h.7M459.2 301.1h.7M460.2 300.9h.7M461.7 310.2h.7M467.8 313.6h.7M456.0 312.3h.7M456.0 306.9h.7M455.8 298.6h.7M461.8 297.2h.7M457.2 310.2h.7M459.1 299.5h.7M454.9 310.9h.7M464.5 315.6h.7M448.6 309.8h.7M455.9 311.4h.7M449.3 306.8h.7M462.4 304.2h.7M456.5 302.5h.7M464.6 300.8h.7M453.5 305.8h.7M456.8 318.2h.7M460.0 303.3h.7M461.7 309.2h.7M460.0 307.2h.7M461.0 301.6h.7M451.9 305.3h.7M452.5 311.0h.7M469.1 313.8h.7M460.9 309.2h.7M454.8 300.9h.7M461.5 300.0h.7M460.2 306.8h.7M462.6 307.8h.7M459.1 304.6h.7M449.1 305.8h.7M462.3 312.8h.7M466.0 302.5h.7M453.4 311.1h.7M456.0 320.5h.7M460.2 299.8h.7M455.5 315.5h.7M448.5 308.3h.7M450.9 315.6h.7M456.1 302.3h.7M449.2 303.9h.7M444.5 305.1h.7M470.4 308.0h.7M457.0 301.6h.7M460.4 305.1h.7M453.9 314.5h.7M460.9 303.0h.7M466.6 307.2h.7M461.3 308.2h.7M465.0 310.6h.7M456.6 311.1h.7M456.4 308.2h.7M467.5 302.1h.7M452.8 305.5h.7M455.8 314.1h.7M449.8 319.1h.7M467.2 305.2h.7M459.5 305.7h.7M462.2 310.9h.7M462.6 311.4h.7M469.1 306.6h.7M462.3 306.6h.7M458.7 308.6h.7M458.2 309.3h.7M453.8 306.7h.7M455.2 301.6h.7M454.6 305.0h.7M457.7 299.6h.7M457.1 301.8h.7M454.0 308.5h.7M464.6 309.0h.7M455.8 305.3h.7M465.8 299.3h.7M464.7 299.9h.7M455.0 307.7h.7M457.3 315.9h.7M461.2 307.3h.7M463.7 307.7h.7M454.1 313.2h.7M466.7 314.0h.7M452.1 317.2h.7M456.2 311.4h.7M465.0 319.6h.7M449.6 302.3h.7M465.0 310.0h.7M456.8 292.6h.7M460.9 306.6h.7M444.2 321.1h.7M444.8 304.7h.7M458.5 308.7h.7M462.6 306.2h.7M453.6 305.7h.7M447.0 301.8h.7M469.3 304.0h.7M458.1 317.1h.7M464.3 308.1h.7M462.5 306.1h.7M453.5 312.6h.7M459.2 315.6h.7M457.1 305.6h.7M460.4 306.5h.7M456.8 303.0h.7M459.9 309.1h.7M468.5 307.4h.7M448.9 309.9h.7M471.1 305.3h.7M454.1 306.7h.7M442.8 305.8h.7M457.5 299.8h.7M461.7 303.1h.7M448.4 303.8h.7M462.0 317.3h.7M465.4 308.5h.7M455.7 306.2h.7M463.8 304.9h.7M460.8 312.4h.7M453.5 304.5h.7M461.0 307.5h.7M457.8 304.8h.7M458.2 316.9h.7M466.0 299.3h.7M458.8 308.0h.7M458.7 300.5h.7M457.8 308.3h.7M454.8 309.1h.7M445.1 299.8h.7M459.1 309.5h.7M457.6 305.2h.7M459.5 313.0h.7M463.4 307.1h.7M455.9 312.9h.7M461.5 312.0h.7M457.0 303.1h.7M459.5 304.3h.7M464.8 311.9h.7M446.5 310.9h.7M465.8 312.8h.7M455.9 303.1h.7M463.8 312.7h.7M458.8 301.6h.7M450.1 308.9h.7M454.0 304.0h.7M460.9 312.8h.7M447.2 304.1h.7M465.6 307.3h.7M456.6 310.8h.7M452.2 301.3h.7M458.6 315.5h.7M464.1 307.5h.7M464.1 305.4h.7M452.0 299.0h.7M460.0 312.1h.7M460.5 307.3h.7M456.3 313.1h.7M458.2 300.2h.7M466.0 304.2h.7M460.7 307.5h.7M464.3 308.8h.7M465.2 308.6h.7M456.0 304.9h.7M462.1 303.3h.7M463.6 306.3h.7M453.4 303.1h.7M457.7 316.5h.7M462.7 307.6h.7M453.5 317.2h.7M457.0 307.5h.7M456.2 314.3h.7M459.5 305.2h.7M459.5 302.4h.7M452.7 306.7h.7M442.7 313.5h.7M469.4 301.8h.7M457.7 299.5h.7M459.4 308.6h.7M462.6 300.7h.7M455.2 304.2h.7M457.1 319.1h.7M457.4 307.3h.7" stroke="#000" stroke-width="0.75" stroke-opacity="0.6" fill="none"/>
<path d="M455.3 323.5h.7M488.5 273.1h.7M459.4 279.7h.7M464.1 293.1h.7M474.8 294.9h.7M445.7 291.6h.7M450.6 306.3h.7M458.2 303.6h.7M450.2 285.3h.7M445.6 323.2h.7M453.2 303.6h.7M453.7 311.8h.7M462.8 292.6h.7M440.4 298.0h.7M415.3 348.4h.7M437.4 293.6h.7M456.7 303.5h.7M447.3 307.4h.7M456.4 322.2h.7M456.8 304.8h.7M450.5 320.4h.7M465.0 290.6h.7M439.9 311.5h.7M446.7 304.8h.7M446.8 339.8h.7M430.1 311.6h.7M462.1 332.3h.7M441.2 306.3h.7M448.8 333.3h.7M459.3 305.1h.7M455.7 316.7h.7M472.8 287.2h.7M440.0 306.9h.7M471.2 311.1h.7M449.2 293.8h.7M466.4 314.2h.7M451.5 324.3h.7M479.3 298.4h.7M423.0 329.5h.7M463.2 308.1h.7M449.8 316.9h.7M459.7 323.9h.7M433.9 350.0h.7M435.1 329.5h.7M430.7 332.7h.7M453.5 311.5h.7M469.2 279.4h.7M459.9 306.8h.7M468.5 313.8h.7M456.1 309.4h.7M452.4 312.9h.7M461.4 316.9h.7M454.3 311.0h.7M459.5 315.5h.7M456.9 323.7h.7M453.8 324.2h.7M474.4 279.4h.7M442.6 306.7h.7M460.9 298.4h.7M456.9 292.2h.7M474.0 311.0h.7M454.7 302.5h.7M440.6 333.2h.7M465.1 302.7h.7M433.7 325.0h.7M435.2 322.6h.7M453.0 317.0h.7M474.1 279.1h.7M453.7 278.0h.7M475.5 288.6h.7M464.9 307.5h.7M475.9 309.9h.7M446.6 288.7h.7M450.0 348.8h.7M464.0 319.0h.7M444.5 313.6h.7M452.8 318.4h.7M450.1 304.8h.7M464.1 304.9h.7M434.9 321.2h.7M431.5 343.0h.7M447.7 307.4h.7M446.4 320.6h.7M458.7 313.3h.7M465.5 298.9h.7M456.3 287.1h.7M462.7 302.5h.7M437.4 325.5h.7M458.5 303.8h.7M436.4 329.8h.7M475.8 289.1h.7M465.8 316.3h.7M443.1 325.7h.7M460.1 292.9h.7M447.5 333.0h.7M447.6 271.1h.7M444.3 302.2h.7M438.5 309.1h.7M473.4 263.1h.7M447.9 306.8h.7M439.8 325.7h.7M470.5 316.1h.7M469.7 313.8h.7M443.6 329.6h.7M435.8 310.7h.7M449.5 303.1h.7M439.0 315.7h.7M460.2 291.5h.7M453.6 314.4h.7M443.4 333.1h.7M455.6 316.1h.7M450.0 317.8h.7M466.9 306.9h.7M455.0 327.6h.7M442.1 326.9h.7M456.0 309.5h.7M420.5 348.9h.7M459.6 318.7h.7M459.5 330.5h.7M436.3 342.2h.7M459.0 301.9h.7M464.1 311.1h.7M450.6 327.7h.7M462.0 291.7h.7M420.4 344.7h.7M436.0 320.4h.7M450.9 299.6h.7M482.9 271.4h.7M438.1 331.9h.7M474.4 288.2h.7M452.3 333.6h.7M467.8 330.1h.7M453.2 323.4h.7M455.3 299.1h.7M461.9 319.4h.7M457.9 302.2h.7M472.9 312.0h.7M466.8 297.4h.7M443.4 297.6h.7M450.7 306.3h.7M455.5 295.5h.7M448.9 298.1h.7M456.1 292.1h.7M458.2 314.3h.7M450.4 316.6h.7M479.1 301.6h.7M427.9 337.4h.7M468.2 304.1h.7M449.6 319.6h.7M471.1 325.5h.7M441.3 308.5h.7M427.2 331.3h.7M463.0 286.8h.7M478.2 280.8h.7M462.8 307.6h.7M469.2 302.0h.7M439.1 325.0h.7M449.0 320.9h.7M440.5 309.2h.7M461.9 331.7h.7M467.1 270.5h.7M457.0 304.3h.7M451.2 329.0h.7M467.1 320.4h.7M455.4 301.6h.7M426.5 355.8h.7M455.8 293.0h.7M468.1 299.2h.7M434.4 340.2h.7M463.1 309.2h.7M454.9 308.3h.7M447.6 315.5h.7M444.4 305.7h.7M457.1 298.4h.7M454.3 299.6h.7M458.6 304.6h.7M466.3 298.0h.7M461.3 294.2h.7M450.7 310.7h.7M440.0 331.8h.7M470.8 296.2h.7M447.7 327.0h.7M449.3 291.4h.7M459.8 306.7h.7M463.1 299.4h.7M419.1 330.8h.7M469.7 275.1h.7M476.9 295.5h.7M444.6 303.9h.7M466.7 287.4h.7M462.7 304.5h.7M471.6 299.7h.7M427.4 328.4h.7M455.0 308.6h.7M460.0 297.0h.7M469.0 324.1h.7M477.0 293.2h.7M457.0 289.4h.7M452.1 312.1h.7M435.3 325.4h.7M444.7 302.3h.7M462.9 304.1h.7M448.3 313.4h.7M463.5 303.1h.7M446.7 298.7h.7M454.9 348.9h.7M443.9 320.4h.7M428.7 338.3h.7M453.1 327.5h.7M415.4 349.3h.7M445.2 315.6h.7M442.1 322.1h.7M440.2 339.3h.7M466.6 291.3h.7M459.0 326.4h.7M449.5 297.6h.7M442.6 317.8h.7M463.4 317.7h.7M445.3 322.3h.7M444.5 303.2h.7M454.0 322.2h.7M448.7 282.4h.7M458.0 297.5h.7M471.5 292.0h.7M475.6 278.8h.7M442.5 313.7h.7M444.1 338.2h.7M465.6 306.2h.7M444.2 297.6h.7M447.4 316.8h.7M461.6 312.0h.7M469.9 288.1h.7M424.4 341.3h.7M425.9 343.8h.7M443.7 332.7h.7M460.8 320.3h.7M460.3 290.3h.7M463.0 294.9h.7M469.5 309.8h.7M441.6 330.3h.7M462.2 280.9h.7M456.8 308.0h.7M438.3 311.7h.7M438.4 317.9h.7M466.3 293.7h.7M450.3 293.1h.7M459.7 303.1h.7M457.7 289.5h.7M473.2 303.8h.7M463.4 275.6h.7M430.0 323.0h.7M468.1 297.4h.7M449.5 300.9h.7M479.5 297.4h.7M452.1 311.0h.7M469.6 293.1h.7M463.4 286.0h.7M454.0 303.5h.7M445.4 319.3h.7M455.0 318.3h.7M451.1 316.5h.7M435.1 318.8h.7M459.3 281.7h.7M479.4 284.6h.7M425.5 347.0h.7M449.6 318.2h.7M446.6 311.1h.7M464.8 288.9h.7M457.2 291.2h.7M458.0 329.3h.7M441.4 310.4h.7M460.8 319.0h.7M445.8 310.2h.7M468.1 304.9h.7M448.8 313.0h.7M472.8 330.4h.7M466.5 322.7h.7M455.5 315.5h.7M434.9 346.7h.7M451.4 308.5h.7M437.9 311.3h.7M440.2 337.3h.7M446.4 321.5h.7M447.5 311.6h.7M462.1 332.5h.7M438.3 327.4h.7M440.8 310.4h.7M451.4 331.6h.7M463.8 295.7h.7M458.8 285.9h.7M478.5 300.7h.7M465.1 326.3h.7M436.0 319.2h.7M446.3 307.8h.7M450.5 294.7h.7M437.8 300.0h.7M462.1 316.6h.7M453.6 317.0h.7M455.0 286.9h.7M441.7 333.1h.7M454.0 304.9h.7M454.2 333.5h.7M439.9 329.6h.7M459.3 315.2h.7M442.2 314.6h.7M466.3 272.4h.7M460.1 296.6h.7M448.5 318.9h.7M453.6 316.8h.7M428.2 354.3h.7M446.0 305.0h.7M469.5 329.0h.7M477.2 282.5h.7M453.3 305.5h.7M463.5 285.0h.7M451.3 328.3h.7M437.3 323.6h.7M454.3 278.3h.7M453.9 312.6h.7M443.8 299.4h.7M448.5 313.2h.7M481.0 283.0h.7M453.5 328.1h.7M459.0 299.2h.7M448.8 313.7h.7M433.0 334.2h.7M475.0 302.0h.7M468.7 277.4h.7M439.3 288.7h.7M440.2 309.4h.7M447.7 288.8h.7M433.9 323.3h.7M464.5 308.2h.7M459.7 335.4h.7M448.1 304.1h.7M456.9 304.9h.7M464.7 298.4h.7M485.0 279.2h.7M453.9 325.7h.7M452.6 293.0h.7M439.3 319.8h.7M434.6 356.2h.7M461.8 320.6h.7M448.7 320.8h.7M468.9 303.2h.7M447.9 300.4h.7M482.6 277.5h.7M480.7 295.5h.7M470.9 288.9h.7M463.6 305.9h.7M445.6 340.6h.7M447.5 329.6h.7M449.6 331.7h.7M469.8 331.4h.7M459.7 310.1h.7M442.2 325.0h.7M450.6 310.5h.7M441.9 314.1h.7M457.9 296.0h.7M448.6 326.6h.7M444.1 323.9h.7M440.7 315.1h.7M444.4 310.7h.7M444.2 334.0h.7M438.3 308.8h.7M451.3 318.5h.7M461.0 305.4h.7M461.1 309.5h.7M442.0 315.4h.7M456.2 298.4h.7M459.2 313.9h.7M473.2 300.8h.7M443.7 320.8h.7M447.0 294.4h.7M446.3 335.3h.7M439.8 316.9h.7M466.0 299.8h.7M459.8 293.6h.7M447.9 314.1h.7M439.4 295.9h.7M452.7 326.1h.7M445.4 323.9h.7M459.2 311.3h.7M439.4 313.5h.7M472.1 264.8h.7M455.6 273.1h.7M453.0 308.0h.7M489.4 288.5h.7M454.7 289.3h.7M439.3 320.9h.7M450.7 320.9h.7M443.8 323.1h.7M480.2 292.8h.7M427.3 338.0h.7M460.8 323.5h.7M466.4 325.8h.7M469.3 311.6h.7M442.5 324.0h.7M468.4 296.3h.7M432.9 341.3h.7M460.7 310.8h.7M462.0 330.1h.7M467.3 315.3h.7M458.3 304.4h.7M440.7 310.6h.7M468.5 299.8h.7M459.6 293.1h.7M440.5 326.1h.7M450.4 316.1h.7M455.6 289.7h.7M454.6 322.5h.7M481.1 306.2h.7M451.7 297.8h.7M436.8 324.7h.7M456.4 310.9h.7M447.8 309.0h.7M451.2 313.6h.7M460.1 301.1h.7M435.8 318.9h.7M467.5 285.2h.7M451.7 313.7h.7M462.1 290.1h.7M453.4 306.7h.7M450.8 296.1h.7M464.3 312.3h.7M470.4 293.7h.7M469.7 313.4h.7M472.3 305.6h.7M432.6 325.9h.7M459.2 295.9h.7M441.4 313.5h.7M458.2 279.8h.7M443.0 302.3h.7M470.8 324.6h.7M473.4 267.0h.7M457.4 335.8h.7M430.3 316.7h.7M448.0 299.7h.7M448.9 340.9h.7M437.6 318.0h.7M453.7 307.0h.7M465.5 292.2h.7M478.8 289.3h.7M480.5 286.0h.7M458.9 312.2h.7M440.8 302.9h.7M448.3 334.3h.7M423.6 346.9h.7M440.5 332.3h.7M445.6 329.6h.7M447.8 311.8h.7M426.7 314.4h.7M443.6 303.2h.7M453.9 317.6h.7M469.8 296.4h.7M456.2 278.8h.7M473.4 306.9h.7M448.2 298.7h.7M453.2 301.5h.7M456.3 326.8h.7M442.6 308.4h.7M463.5 331.7h.7M451.1 328.3h.7M465.2 313.4h.7M443.0 310.9h.7M438.8 316.6h.7M480.7 267.7h.7M461.1 322.3h.7M458.6 298.7h.7M462.0 301.5h.7M478.5 299.6h.7M450.3 315.9h.7M462.1 319.7h.7M464.0 308.0h.7M457.2 292.4h.7M466.5 315.2h.7M469.5 299.0h.7M447.9 313.7h.7M443.1 323.9h.7M441.1 304.9h.7M458.6 287.4h.7M461.2 309.4h.7M433.1 311.3h.7M466.5 296.4h.7M460.7 320.5h.7M454.4 291.0h.7M438.2 303.6h.7M462.9 322.0h.7M452.4 328.9h.7M436.5 334.8h.7M477.3 303.1h.7M464.5 306.7h.7M450.0 269.9h.7M452.9 348.7h.7M482.8 271.9h.7M456.5 310.9h.7M448.8 307.3h.7M452.5 310.4h.7M465.9 302.7h.7M468.2 297.0h.7M455.9 333.8h.7M428.6 356.4h.7M452.5 302.6h.7M462.8 273.8h.7M438.1 328.0h.7M464.4 307.5h.7M460.4 312.1h.7M441.8 319.7h.7M443.7 302.0h.7M452.2 305.7h.7M451.9 294.3h.7M443.8 316.9h.7M441.8 312.1h.7M439.9 308.6h.7M464.5 304.9h.7M452.0 310.1h.7M437.0 321.1h.7M444.0 310.0h.7M443.7 331.3h.7M450.1 309.1h.7M445.3 324.2h.7M443.4 320.3h.7M461.5 311.1h.7M456.0 295.1h.7M455.7 284.8h.7M462.9 319.9h.7M477.8 271.4h.7M447.1 315.0h.7M440.7 330.4h.7M443.3 314.2h.7M458.8 286.9h.7M477.1 286.3h.7M455.0 297.1h.7M432.1 309.6h.7M454.1 304.8h.7M451.8 301.0h.7M445.9 295.3h.7M436.4 349.8h.7M437.8 277.5h.7M463.2 287.5h.7M439.2 306.0h.7M450.0 330.9h.7M446.2 322.9h.7M468.8 322.9h.7M451.3 289.4h.7M439.4 313.3h.7M434.5 330.7h.7M464.7 292.5h.7M459.1 298.8h.7M450.3 318.2h.7M469.1 321.3h.7M474.2 282.5h.7M442.8 291.0h.7M472.5 324.4h.7M452.8 328.1h.7M462.1 288.4h.7M447.7 312.3h.7M461.5 297.5h.7M478.1 291.3h.7M475.3 323.5h.7M445.6 313.0h.7M444.0 310.5h.7M449.0 317.4h.7M449.0 288.2h.7M433.7 330.5h.7M454.5 318.1h.7M458.7 331.2h.7M446.7 318.6h.7M464.0 315.5h.7M456.8 305.9h.7M449.8 320.7h.7M454.6 302.3h.7M438.0 302.2h.7M458.4 325.4h.7M466.7 286.7h.7M448.2 355.8h.7M473.5 326.1h.7M458.1 322.5h.7M459.2 327.7h.7M455.9 286.3h.7M490.1 303.0h.7M441.3 308.7h.7M452.9 304.2h.7M430.4 330.7h.7M443.2 299.3h.7M467.8 294.9h.7M463.7 320.6h.7M450.5 329.6h.7M437.8 331.9h.7M455.3 297.5h.7M458.0 315.9h.7M479.2 291.7h.7M455.9 301.9h.7M454.1 343.3h.7M453.6 269.1h.7M461.7 296.1h.7M463.1 300.5h.7M451.7 314.0h.7M463.0 317.1h.7M446.5 312.5h.7M465.3 303.0h.7M460.2 304.9h.7M477.2 291.7h.7M453.9 306.3h.7M444.2 290.7h.7M442.6 316.1h.7M452.0 306.1h.7M483.5 273.3h.7M476.4 315.0h.7M450.9 309.3h.7M472.4 294.3h.7M472.7 301.3h.7M444.5 313.7h.7M447.5 323.3h.7M454.4 289.0h.7M437.2 313.2h.7M479.6 281.4h.7M445.5 301.3h.7M438.3 324.9h.7M443.2 304.1h.7M461.7 320.6h.7M454.6 311.1h.7M431.2 344.4h.7M446.4 309.9h.7M439.7 333.5h.7M439.2 325.2h.7M437.5 336.9h.7M455.3 291.6h.7M443.9 298.1h.7M463.7 303.8h.7M457.3 321.6h.7M445.6 325.7h.7M469.6 282.7h.7M452.5 335.2h.7M456.4 300.6h.7M420.3 331.9h.7M451.5 343.4h.7M449.2 301.8h.7M477.0 298.8h.7M449.6 327.2h.7M440.9 340.1h.7M459.1 273.7h.7M448.8 306.8h.7M453.4 312.8h.7M463.8 310.5h.7M467.4 307.4h.7M472.6 299.3h.7M450.6 324.1h.7M442.9 313.0h.7M474.8 279.7h.7M436.3 299.8h.7M457.9 318.5h.7M447.0 311.6h.7M465.1 284.8h.7M449.6 315.9h.7M460.2 319.9h.7M458.5 301.0h.7M448.2 315.7h.7M467.2 281.3h.7M446.5 292.3h.7M462.5 308.9h.7M468.5 291.3h.7M461.9 302.8h.7M481.1 303.1h.7M448.6 303.5h.7M458.4 300.4h.7M466.3 304.0h.7M451.4 306.2h.7M446.0 299.7h.7M448.7 302.0h.7M458.9 304.0h.7M441.4 308.6h.7M448.3 306.7h.7M458.1 316.6h.7M451.8 288.7h.7M474.1 302.0h.7M466.7 293.5h.7M467.5 320.8h.7M437.6 308.7h.7M456.9 310.7h.7M433.4 322.1h.7M473.5 278.5h.7M456.1 295.0h.7M437.6 335.1h.7M460.8 285.3h.7M435.0 339.7h.7M451.1 315.6h.7M441.0 326.6h.7M455.9 324.1h.7M462.4 312.6h.7M435.1 301.3h.7M439.4 345.8h.7M469.4 300.6h.7M437.8 303.3h.7M452.3 320.9h.7M463.9 286.3h.7M441.7 316.3h.7M470.7 298.2h.7M446.4 347.0h.7M432.4 318.9h.7M432.2 333.7h.7M497.4 284.9h.7M436.0 328.1h.7M458.6 310.2h.7M435.6 311.0h.7M443.9 314.3h.7M437.7 341.2h.7M424.9 326.6h.7M476.1 290.3h.7M468.5 287.4h.7M448.9 317.2h.7M446.8 337.1h.7M453.6 304.9h.7M434.8 341.3h.7M481.4 290.9h.7M459.0 294.6h.7M459.6 311.2h.7M464.3 312.7h.7M427.6 310.5h.7M422.7 346.5h.7M446.0 337.0h.7M463.9 293.0h.7M459.4 302.3h.7M451.3 305.6h.7M459.8 323.3h.7M450.7 315.1h.7M473.4 295.8h.7M452.0 318.5h.7M445.1 328.2h.7M456.6 305.6h.7M458.3 309.9h.7M422.4 348.8h.7M450.2 307.1h.7M442.4 325.6h.7M467.1 283.0h.7M443.3 319.2h.7M446.3 332.9h.7M451.9 331.6h.7M467.2 298.5h.7M462.8 293.2h.7M436.2 339.7h.7M446.7 292.7h.7M451.2 336.4h.7M469.2 310.1h.7M460.6 300.1h.7M464.9 307.8h.7M451.6 310.2h.7M454.0 304.0h.7M470.2 267.0h.7M428.2 329.6h.7M460.2 291.4h.7M453.3 307.1h.7M444.0 299.1h.7M449.6 306.6h.7M469.3 295.8h.7M433.3 327.0h.7M469.2 307.2h.7M459.7 297.3h.7M444.3 280.8h.7M440.2 314.9h.7M448.5 330.7h.7M458.7 307.6h.7M457.6 316.0h.7M456.3 294.9h.7M454.8 290.7h.7M459.5 275.1h.7M441.7 310.3h.7M465.2 316.6h.7M461.5 332.0h.7M470.5 289.1h.7M455.6 325.0h.7M419.6 354.8h.7M462.6 294.5h.7M471.9 266.0h.7M439.0 332.0h.7M473.7 309.4h.7M438.0 341.0h.7M460.1 286.4h.7M438.9 312.5h.7M468.1 302.0h.7M461.4 302.1h.7M462.2 293.6h.7M467.5 302.8h.7M470.6 291.5h.7M460.5 312.8h.7M423.7 328.1h.7M470.5 284.3h.7M438.5 325.6h.7M452.8 313.6h.7M454.7 328.5h.7M460.9 353.1h.7M457.3 337.1h.7M445.8 291.3h.7M442.3 331.6h.7M452.7 304.1h.7M455.1 311.4h.7M443.0 330.3h.7M470.2 269.3h.7M449.4 331.1h.7M475.6 293.2h.7M446.9 321.1h.7M453.8 306.3h.7M466.8 309.4h.7M458.9 301.5h.7M466.9 323.0h.7M458.7 341.4h.7M461.6 298.8h.7M462.0 332.4h.7M473.3 294.7h.7M458.7 266.7h.7M452.0 307.6h.7M447.2 323.5h.7M463.4 304.3h.7M441.0 306.6h.7M464.3 304.3h.7M482.4 279.4h.7M444.0 304.8h.7M474.6 261.2h.7M462.0 311.1h.7M469.9 308.8h.7M437.6 324.9h.7M444.8 301.7h.7M459.4 328.0h.7M455.7 305.2h.7M448.5 320.7h.7M444.1 306.0h.7M450.5 291.0h.7M463.3 287.3h.7M417.9 342.0h.7M449.0 301.6h.7M483.3 286.7h.7M482.0 279.3h.7M461.8 284.7h.7M462.7 286.4h.7M441.5 304.9h.7M457.7 311.8h.7M443.5 306.4h.7M470.4 299.8h.7M459.5 316.2h.7M454.9 289.0h.7M437.3 302.2h.7M447.1 330.6h.7M448.3 327.8h.7M439.5 294.4h.7M461.9 326.6h.7M454.8 311.1h.7M432.9 314.9h.7M462.6 352.4h.7M444.3 309.6h.7M438.1 299.3h.7M482.2 295.2h.7M448.9 325.3h.7M452.1 330.5h.7M444.0 324.5h.7M471.1 290.9h.7M437.3 308.9h.7M448.1 344.2h.7M459.2 302.2h.7M467.4 289.9h.7M445.5 322.8h.7M452.5 312.4h.7M483.5 270.7h.7M454.2 304.8h.7M438.3 317.6h.7M430.9 340.9h.7M422.5 327.8h.7M426.8 316.9h.7M478.1 293.2h.7M461.6 337.7h.7M438.4 286.8h.7M445.2 305.5h.7M434.0 339.6h.7M469.0 293.1h.7M433.3 332.8h.7M455.9 329.6h.7M444.2 307.6h.7M427.5 316.8h.7M452.9 329.9h.7M436.2 344.9h.7M459.5 316.9h.7M450.0 335.2h.7M489.0 295.3h.7M437.0 338.9h.7M452.6 315.1h.7M451.1 332.3h.7M490.1 277.7h.7M439.0 324.5h.7M462.1 298.9h.7M456.7 330.3h.7M467.7 307.0h.7M462.9 320.3h.7M439.2 313.3h.7M441.4 304.0h.7M472.5 292.8h.7M438.2 340.9h.7M459.0 294.3h.7M452.7 300.7h.7M452.1 311.6h.7M450.0 297.6h.7M445.1 332.2h.7M453.0 322.3h.7M437.1 313.1h.7M463.3 299.4h.7M458.0 296.5h.7M460.9 323.5h.7M451.7 349.0h.7M458.2 301.7h.7M459.7 312.4h.7M448.2 325.7h.7M427.9 318.2h.7M456.4 307.9h.7M464.9 302.4h.7M467.5 302.7h.7M453.5 335.4h.7M475.5 261.5h.7M446.8 336.3h.7M471.5 300.0h.7M456.9 277.2h.7M461.4 306.7h.7M458.4 284.7h.7M450.6 308.6h.7M450.7 313.0h.7M436.7 304.7h.7M453.8 311.9h.7M418.8 299.8h.7M440.9 319.7h.7M458.7 334.1h.7M461.2 293.9h.7M488.2 317.0h.7M447.9 330.2h.7M460.4 328.8h.7M463.6 291.0h.7M452.8 296.3h.7M444.9 342.8h.7M467.3 280.9h.7M432.7 311.1h.7M464.7 267.5h.7M442.1 326.8h.7M466.2 290.1h.7M453.5 311.4h.7M461.7 296.0h.7M454.5 307.8h.7M454.0 337.0h.7M435.1 316.4h.7M449.4 318.7h.7M449.0 289.3h.7M442.3 333.9h.7M447.8 298.8h.7M443.6 331.6h.7M438.0 305.3h.7M457.6 333.7h.7M452.0 334.7h.7M451.0 345.1h.7M464.1 279.9h.7M452.1 326.0h.7M445.8 335.3h.7M468.1 291.1h.7M455.4 304.5h.7M456.5 289.4h.7M469.3 283.1h.7M436.0 308.4h.7M451.2 319.8h.7M452.0 281.2h.7M446.3 309.7h.7M441.5 331.8h.7M453.5 328.6h.7M432.8 361.6h.7M417.4 334.3h.7M455.8 300.2h.7M446.4 303.9h.7M436.6 325.5h.7M445.6 307.7h.7M441.8 314.0h.7M446.0 301.2h.7M409.8 334.0h.7M454.1 311.8h.7M456.7 290.5h.7M429.1 323.3h.7M455.7 294.7h.7M462.7 293.4h.7M434.6 306.4h.7M453.6 326.7h.7M453.3 325.0h.7M445.8 344.7h.7M491.2 268.2h.7M446.0 299.2h.7M442.5 316.9h.7M437.8 297.6h.7M451.7 330.0h.7M461.4 312.2h.7M452.1 290.4h.7M444.0 336.7h.7M454.5 310.8h.7M454.2 330.3h.7M468.4 308.1h.7M456.0 320.6h.7M444.7 307.3h.7M438.3 304.1h.7M453.2 315.0h.7M451.3 293.6h.7M433.8 330.4h.7M427.0 343.7h.7M481.0 266.2h.7M440.0 320.8h.7M461.1 274.4h.7M451.7 312.6h.7M439.9 320.1h.7M429.4 336.0h.7M478.9 295.5h.7M456.8 319.4h.7M459.1 303.6h.7M462.7 319.5h.7M457.2 300.0h.7M459.3 319.8h.7M441.3 317.7h.7M446.4 313.3h.7M469.3 290.8h.7M448.0 309.9h.7M471.5 288.6h.7M482.3 279.4h.7M446.6 312.0h.7M452.2 316.9h.7M465.7 299.7h.7M456.0 276.1h.7M441.5 303.4h.7M437.9 325.9h.7M438.5 317.4h.7M448.1 343.1h.7M458.7 321.4h.7M422.3 318.6h.7M455.2 325.7h.7M451.3 322.7h.7M454.8 336.7h.7M467.0 308.8h.7M461.8 322.2h.7M450.0 307.3h.7M447.6 322.4h.7M434.0 320.8h.7M461.0 312.3h.7M457.9 320.3h.7M458.4 277.1h.7M447.7 301.7h.7M448.6 323.1h.7M435.0 355.2h.7M466.6 299.1h.7M475.7 308.8h.7M459.3 322.8h.7M472.3 288.3h.7M434.2 341.2h.7M436.5 308.0h.7M459.5 315.8h.7M449.3 314.6h.7M462.9 282.4h.7M444.4 327.6h.7M469.9 294.5h.7M449.9 307.3h.7M473.5 294.0h.7M439.0 342.8h.7M442.4 360.3h.7M454.2 297.2h.7M437.9 331.9h.7M440.8 344.3h.7M433.0 311.0h.7M463.6 317.3h.7M437.7 331.3h.7M473.3 280.4h.7M449.6 321.6h.7M452.6 292.4h.7M438.3 304.5h.7M424.2 330.8h.7M464.6 297.9h.7M471.4 304.4h.7M456.0 311.4h.7M461.6 306.3h.7M440.4 328.1h.7M452.3 313.8h.7M444.8 323.4h.7M458.0 307.0h.7M466.5 304.9h.7M467.4 306.2h.7M474.0 303.4h.7M454.4 297.0h.7M486.6 276.3h.7M472.3 293.0h.7M444.0 304.4h.7M454.8 301.6h.7M430.9 307.2h.7M458.9 278.3h.7M446.5 332.4h.7M452.3 297.2h.7M455.6 312.4h.7M459.6 310.9h.7M458.1 295.7h.7M456.0 350.0h.7M441.0 312.7h.7M466.1 300.9h.7M467.7 333.5h.7M441.0 358.3h.7" stroke="#000" stroke-width="0.75" stroke-opacity="0.4" fill="none"/>
<path d="M434.7 343.9h.7M432.5 339.6h.7M426.3 337.9h.7M442.7 349.7h.7M422.2 363.3h.7M432.9 333.9h.7M422.8 346.3h.7M431.6 343.9h.7M422.3 346.8h.7M435.8 342.2h.7M438.9 332.8h.7M443.9 330.1h.7M426.6 342.4h.7M439.7 340.3h.7M421.8 356.1h.7M431.6 335.5h.7M438.0 329.2h.7M423.8 346.3h.7M424.5 334.5h.7M422.0 353.6h.7M447.3 329.2h.7M430.2 344.6h.7M442.1 338.2h.7M443.7 354.3h.7M439.0 346.8h.7M442.7 352.9h.7M425.0 343.1h.7M434.1 323.0h.7M425.7 341.1h.7M435.9 336.7h.7M429.9 345.2h.7M427.3 347.4h.7M436.3 358.5h.7M427.2 332.2h.7M432.3 354.9h.7M437.7 320.7h.7M430.7 345.7h.7M432.6 340.3h.7M441.5 334.0h.7M443.6 340.1h.7M429.2 344.4h.7M429.5 311.1h.7M415.2 354.5h.7M427.7 337.9h.7M423.5 329.4h.7M430.4 343.7h.7M436.7 355.2h.7M434.6 347.6h.7M432.5 348.4h.7M432.3 347.5h.7M428.8 342.9h.7M433.0 338.5h.7M424.4 350.8h.7M441.9 340.8h.7M427.2 355.1h.7M440.2 340.3h.7M428.0 334.3h.7M438.3 344.1h.7M432.3 340.3h.7M430.9 354.7h.7M433.0 343.7h.7M443.8 330.3h.7M432.3 351.1h.7M432.8 346.2h.7M442.6 328.6h.7M429.3 341.6h.7M434.7 345.2h.7M438.1 349.6h.7M426.2 341.0h.7M421.4 318.6h.7M431.6 345.4h.7M442.0 335.1h.7M445.9 331.3h.7M434.5 340.1h.7M435.5 333.1h.7M427.1 354.5h.7M438.3 337.5h.7M437.1 355.6h.7M425.1 337.7h.7M440.1 340.0h.7M432.6 337.4h.7M437.4 352.5h.7M433.5 340.8h.7M425.9 345.3h.7M426.1 360.7h.7M440.3 333.4h.7M440.1 352.0h.7M426.5 343.6h.7M443.6 335.7h.7M424.9 344.9h.7M418.7 339.8h.7M442.0 344.9h.7M429.4 339.2h.7M432.0 335.4h.7M434.2 330.2h.7M436.3 322.7h.7M428.0 339.7h.7M431.7 355.9h.7M428.3 338.1h.7M432.1 336.9h.7M431.1 348.2h.7M438.2 340.3h.7M438.4 331.6h.7M427.1 349.0h.7M427.0 337.6h.7M430.3 344.1h.7M433.8 344.2h.7M445.2 335.5h.7M441.2 336.0h.7M436.2 355.0h.7M428.5 328.3h.7M436.3 317.6h.7M428.5 341.1h.7M437.7 350.2h.7M431.5 339.9h.7M430.5 330.4h.7M427.5 350.4h.7M435.1 351.3h.7M426.3 343.6h.7M420.3 344.4h.7M434.0 341.5h.7M433.2 336.7h.7M428.6 337.7h.7M434.0 343.0h.7M433.2 355.7h.7M433.7 341.7h.7M443.4 350.7h.7M428.5 341.8h.7M434.2 352.2h.7M427.9 343.8h.7M436.5 351.5h.7M439.3 343.8h.7M426.1 341.3h.7M437.1 335.1h.7M429.5 348.9h.7M435.3 353.7h.7M434.7 347.8h.7M432.2 340.1h.7M432.5 339.0h.7M427.5 353.8h.7M434.3 355.6h.7M431.3 335.8h.7M436.0 337.4h.7M430.1 332.1h.7M427.3 341.2h.7M439.2 351.7h.7M422.5 361.0h.7M438.8 339.5h.7M419.2 347.4h.7M430.7 360.2h.7M441.1 333.7h.7M438.9 352.2h.7M436.1 345.8h.7M441.7 347.3h.7M419.2 344.7h.7M433.3 346.3h.7M429.6 339.2h.7M425.8 343.5h.7M432.9 345.4h.7M443.1 343.2h.7M430.8 363.1h.7M427.4 337.0h.7M433.1 342.3h.7M434.6 353.8h.7M441.8 325.6h.7M441.2 337.2h.7M438.3 345.8h.7M431.9 351.1h.7M442.4 338.2h.7M430.6 345.3h.7M433.7 338.4h.7M438.0 342.9h.7M436.1 351.7h.7M432.4 338.9h.7M426.1 354.1h.7M438.3 344.9h.7M432.0 363.1h.7M427.0 339.4h.7M437.5 335.4h.7M428.5 337.3h.7M435.4 355.1h.7M438.7 330.1h.7M429.9 344.2h.7M434.3 361.0h.7M439.9 345.8h.7M437.2 351.6h.7M434.5 350.8h.7M432.5 328.7h.7M435.3 334.3h.7M431.7 352.3h.7M430.5 335.7h.7M429.0 344.7h.7M429.8 350.1h.7M432.3 334.3h.7M434.0 330.5h.7M437.4 351.3h.7M432.9 328.5h.7M427.8 335.6h.7M429.8 346.3h.7M427.6 334.3h.7M427.7 346.8h.7M426.2 340.1h.7M445.8 360.2h.7M424.9 338.6h.7M427.6 333.0h.7M437.7 363.6h.7M431.4 329.7h.7M432.9 354.2h.7M441.6 324.5h.7M427.9 334.9h.7M430.7 360.6h.7M436.4 333.5h.7M440.9 345.2h.7M437.1 352.7h.7M431.5 334.1h.7M433.9 342.0h.7" stroke="#000" stroke-width="0.75" stroke-opacity="0.35" fill="none"/>
<line x1="446.80" y1="259.60" x2="446.80" y2="365.80" stroke="#8a8a8a" stroke-width="1"/>
<line x1="405.40" y1="328.90" x2="509.30" y2="328.90" stroke="#8a8a8a" stroke-width="1"/>
<line x1="405.40" y1="259.60" x2="405.40" y2="365.80" stroke="#666" stroke-width="1"/>
<line x1="405.40" y1="365.80" x2="509.30" y2="365.80" stroke="#666" stroke-width="1"/>
<text x="286.20" y="271.00" font-size="9.2" text-anchor="start" font-family="Liberation Sans" font-weight="bold" fill="#222" stroke="#222" stroke-width="0.22" >0.0355</text>
<text x="386.60" y="271.00" font-size="9.2" text-anchor="end" font-family="Liberation Sans" font-weight="bold" fill="#222" stroke="#222" stroke-width="0.22" >1.21</text>
<text x="287.20" y="364.60" font-size="9.2" text-anchor="start" font-family="Liberation Sans" font-weight="bold" fill="#222" stroke="#222" stroke-width="0.22" >9.23</text>
<text x="386.60" y="364.60" font-size="9.2" text-anchor="end" font-family="Liberation Sans" font-weight="bold" fill="#222" stroke="#222" stroke-width="0.22" >89.5</text>
<text x="407.20" y="271.20" font-size="9.2" text-anchor="start" font-family="Liberation Sans" font-weight="bold" fill="#222" stroke="#222" stroke-width="0.22" >10.4</text>
<text x="507.90" y="271.30" font-size="9.2" text-anchor="end" font-family="Liberation Sans" font-weight="bold" fill="#222" stroke="#222" stroke-width="0.22" >86.1</text>
<text x="407.40" y="364.40" font-size="9.2" text-anchor="start" font-family="Liberation Sans" font-weight="bold" fill="#222" stroke="#222" stroke-width="0.22" >3.31</text>
<text x="507.90" y="364.40" font-size="9.2" text-anchor="end" font-family="Liberation Sans" font-weight="bold" fill="#222" stroke="#222" stroke-width="0.22" >0.196</text>
<text x="275.00" y="270.00" font-size="4.5" text-anchor="middle" font-family="Liberation Sans" font-weight="normal" fill="#888" >10<tspan dy="-1.5" font-size="3">5</tspan></text>
<text x="275.00" y="294.20" font-size="4.5" text-anchor="middle" font-family="Liberation Sans" font-weight="normal" fill="#888" >10<tspan dy="-1.5" font-size="3">4</tspan></text>
<text x="275.00" y="319.00" font-size="4.5" text-anchor="middle" font-family="Liberation Sans" font-weight="normal" fill="#888" >10<tspan dy="-1.5" font-size="3">3</tspan></text>
<text x="275.00" y="344.00" font-size="4.5" text-anchor="middle" font-family="Liberation Sans" font-weight="normal" fill="#888" >10<tspan dy="-1.5" font-size="3">2</tspan></text>
<text x="276.00" y="355.30" font-size="4.5" text-anchor="middle" font-family="Liberation Sans" font-weight="normal" fill="#888" >0</text>
<text x="396.50" y="270.00" font-size="4.5" text-anchor="middle" font-family="Liberation Sans" font-weight="normal" fill="#888" >10<tspan dy="-1.5" font-size="3">5</tspan></text>
<text x="396.50" y="294.20" font-size="4.5" text-anchor="middle" font-family="Liberation Sans" font-weight="normal" fill="#888" >10<tspan dy="-1.5" font-size="3">4</tspan></text>
<text x="396.50" y="319.00" font-size="4.5" text-anchor="middle" font-family="Liberation Sans" font-weight="normal" fill="#888" >10<tspan dy="-1.5" font-size="3">3</tspan></text>
<text x="396.50" y="344.00" font-size="4.5" text-anchor="middle" font-family="Liberation Sans" font-weight="normal" fill="#888" >10<tspan dy="-1.5" font-size="3">2</tspan></text>
<text x="397.50" y="355.30" font-size="4.5" text-anchor="middle" font-family="Liberation Sans" font-weight="normal" fill="#888" >0</text>
<text x="307.00" y="375.00" font-size="4.5" text-anchor="middle" font-family="Liberation Sans" font-weight="normal" fill="#888" >10<tspan dy="-1.5" font-size="3">2</tspan></text>
<text x="331.40" y="375.00" font-size="4.5" text-anchor="middle" font-family="Liberation Sans" font-weight="normal" fill="#888" >10<tspan dy="-1.5" font-size="3">3</tspan></text>
<text x="355.60" y="375.00" font-size="4.5" text-anchor="middle" font-family="Liberation Sans" font-weight="normal" fill="#888" >10<tspan dy="-1.5" font-size="3">4</tspan></text>
<text x="378.50" y="375.00" font-size="4.5" text-anchor="middle" font-family="Liberation Sans" font-weight="normal" fill="#888" >10<tspan dy="-1.5" font-size="3">5</tspan></text>
<text x="295.80" y="375.00" font-size="4.5" text-anchor="middle" font-family="Liberation Sans" font-weight="normal" fill="#888" >0</text>
<text x="427.80" y="375.00" font-size="4.5" text-anchor="middle" font-family="Liberation Sans" font-weight="normal" fill="#888" >10<tspan dy="-1.5" font-size="3">2</tspan></text>
<text x="452.20" y="375.00" font-size="4.5" text-anchor="middle" font-family="Liberation Sans" font-weight="normal" fill="#888" >10<tspan dy="-1.5" font-size="3">3</tspan></text>
<text x="476.40" y="375.00" font-size="4.5" text-anchor="middle" font-family="Liberation Sans" font-weight="normal" fill="#888" >10<tspan dy="-1.5" font-size="3">4</tspan></text>
<text x="499.30" y="375.00" font-size="4.5" text-anchor="middle" font-family="Liberation Sans" font-weight="normal" fill="#888" >10<tspan dy="-1.5" font-size="3">5</tspan></text>
<text x="416.60" y="375.00" font-size="4.5" text-anchor="middle" font-family="Liberation Sans" font-weight="normal" fill="#888" >0</text>
<text x="301.00" y="242.20" font-size="11.9" text-anchor="start" font-family="Liberation Sans" font-weight="bold" fill="#000" stroke="#000" stroke-width="0.22" ><tspan font-style="italic">Apc</tspan><tspan dy="-4.2" font-size="7.8" font-style="italic">del/+</tspan><tspan dy="4.2">&#8203;</tspan> BM</text>
<text x="408.30" y="233.80" font-size="11.8" text-anchor="start" font-family="Liberation Sans" font-weight="bold" fill="#000" stroke="#000" stroke-width="0.22" ><tspan font-style="italic">Apc</tspan><tspan dy="-4.2" font-size="7.8" font-style="italic">del/+</tspan><tspan dy="4.2">&#8203;</tspan> Recipient;</text>
<text x="397.30" y="248.20" font-size="11.9" text-anchor="start" font-family="Liberation Sans" font-weight="bold" fill="#000" stroke="#000" stroke-width="0.22" >Donor CD45.1/CD45.2</text>
<text x="0.00" y="0.00" font-size="11.6" text-anchor="middle" font-family="Liberation Sans" font-weight="bold" fill="#000" stroke="#000" stroke-width="0.22" transform="translate(259.6,350.0) rotate(-90)">CD45.1</text>
<line x1="254.40" y1="322.50" x2="254.40" y2="272.00" stroke="#000" stroke-width="2.2"/>
<path d="M254.4,264.5L257.3,275L251.5,275Z" fill="#000"/>
<text x="264.00" y="399.30" font-size="11.6" text-anchor="start" font-family="Liberation Sans" font-weight="bold" fill="#000" stroke="#000" stroke-width="0.22" >CD45.2</text>
<line x1="310.00" y1="394.60" x2="498.00" y2="394.60" stroke="#000" stroke-width="2.1"/>
<path d="M506,394.6L496,391.9L496,397.3Z" fill="#000"/>
<text x="0.10" y="459.60" font-size="18" text-anchor="start" font-family="Liberation Sans" font-weight="bold" fill="#000" stroke="#000" stroke-width="0.22" >C</text>
<text x="7.40" y="474.30" font-size="9.9" text-anchor="start" font-family="Liberation Sans" font-weight="bold" fill="#000" stroke="#000" stroke-width="0.22" >Recipient</text>
<text x="7.40" y="486.10" font-size="9.9" text-anchor="start" font-family="Liberation Sans" font-weight="bold" fill="#000" stroke="#000" stroke-width="0.22" >Spleen:</text>
<text x="7.40" y="501.50" font-size="9.9" text-anchor="start" font-family="Liberation Sans" font-weight="bold" fill="#000" stroke="#000" stroke-width="0.22" >Donor:</text>
<text x="64.20" y="485.80" font-size="8.5" text-anchor="start" font-family="Liberation Sans" font-weight="bold" fill="#000" stroke="#000" stroke-width="0.22" ><tspan font-style="italic">Apc</tspan><tspan dy="-3.2" font-size="5.8" font-style="italic">del/+</tspan><tspan dy="3.2">&#8203;</tspan></text>
<text x="129.00" y="480.30" font-size="9.2" text-anchor="middle" font-family="Liberation Sans" font-weight="bold" fill="#000" stroke="#000" stroke-width="0.22" >PCR</text>
<text x="130.30" y="490.30" font-size="9.2" text-anchor="middle" font-family="Liberation Sans" font-weight="bold" fill="#000" stroke="#000" stroke-width="0.22" >Controls</text>
<text x="58.20" y="502.20" font-size="9.2" text-anchor="middle" font-family="Liberation Sans" font-weight="bold" fill="#000" stroke="#000" stroke-width="0.22" >WT</text>
<text x="78.00" y="502.20" font-size="9.2" text-anchor="start" font-family="Liberation Sans" font-weight="bold" fill="#000" stroke="#000" stroke-width="0.22" ><tspan font-style="italic">Egr1</tspan><tspan dy="-3.4" font-size="6" font-style="italic">+/-</tspan><tspan dy="3.4">&#8203;</tspan></text>
<text x="120.00" y="502.20" font-size="9.2" text-anchor="middle" font-family="Liberation Sans" font-weight="bold" fill="#000" stroke="#000" stroke-width="0.22" >WT</text>
<text x="139.50" y="502.20" font-size="9.2" text-anchor="middle" font-family="Liberation Sans" font-weight="bold" fill="#000" stroke="#000" stroke-width="0.22" >Del</text>
<defs>
<filter id="b1" x="-30%" y="-100%" width="160%" height="300%"><feGaussianBlur stdDeviation="0.9"/></filter>
<filter id="b2" x="-30%" y="-100%" width="160%" height="300%"><feGaussianBlur stdDeviation="1.4"/></filter>
<filter id="b3" x="-30%" y="-100%" width="160%" height="300%"><feGaussianBlur stdDeviation="0.7"/></filter>
</defs>
<defs><linearGradient id="gc1" x1="0" y1="0" x2="0" y2="1"><stop offset="0" stop-color="#363636"/><stop offset="1" stop-color="#292929"/></linearGradient><linearGradient id="gc2" x1="0" y1="0" x2="0" y2="1"><stop offset="0" stop-color="#2e2e2e"/><stop offset="1" stop-color="#262626"/></linearGradient><linearGradient id="gc3" x1="0" y1="0" x2="0" y2="1"><stop offset="0" stop-color="#1c1c1c"/><stop offset="1" stop-color="#0b0b0b"/></linearGradient></defs>
<rect x="39.0" y="505.4" width="69.5" height="39.0" fill="url(#gc1)"/>
<rect x="111.3" y="505.4" width="37.3" height="39.0" fill="url(#gc2)"/>
<rect x="39.3" y="549.3" width="69.3" height="38.8" fill="url(#gc3)"/>
<rect x="111.5" y="549.3" width="36.9" height="38.8" fill="url(#gc3)"/>
<rect x="41.9" y="522.5" width="13.8" height="4.6" rx="2.3" fill="#fff" fill-opacity="1" filter="url(#b1)"/>
<rect x="58.5" y="522.5" width="14.1" height="4.6" rx="2.3" fill="#fff" fill-opacity="1" filter="url(#b1)"/>
<rect x="76.1" y="522.5" width="13.4" height="4.6" rx="2.3" fill="#fff" fill-opacity="1" filter="url(#b1)"/>
<rect x="93.1" y="522.4" width="13.5" height="3.8" rx="1.9" fill="#fff" fill-opacity="1" filter="url(#b1)"/>
<rect x="76.1" y="519.3" width="13.4" height="2.8" rx="1.4" fill="#c8c8c8" fill-opacity="1" filter="url(#b1)"/>
<rect x="76.1" y="513.0" width="13.4" height="5.0" rx="2.5" fill="#606060" fill-opacity="1" filter="url(#b2)"/>
<rect x="76.1" y="507.5" width="13.4" height="3.0" rx="1.5" fill="#4a4a4a" fill-opacity="1" filter="url(#b2)"/>
<rect x="93.1" y="518.5" width="13.5" height="2.8" rx="1.4" fill="#d0d0d0" fill-opacity="1" filter="url(#b1)"/>
<rect x="93.1" y="509.6" width="13.5" height="4.0" rx="2.0" fill="#666" fill-opacity="1" filter="url(#b2)"/>
<rect x="113.9" y="522.3" width="14.2" height="4.6" rx="2.3" fill="#fff" fill-opacity="1" filter="url(#b1)"/>
<rect x="130.8" y="522.4" width="14.5" height="4.4" rx="2.2" fill="#fff" fill-opacity="1" filter="url(#b1)"/>
<rect x="130.8" y="518.5" width="14.5" height="2.8" rx="1.4" fill="#d0d0d0" fill-opacity="1" filter="url(#b1)"/>
<rect x="130.8" y="512.4" width="14.5" height="4.5" rx="2.2" fill="#666" fill-opacity="1" filter="url(#b2)"/>
<rect x="42.2" y="564.0" width="13.5" height="4.5" rx="2.2" fill="#606060" fill-opacity="1" filter="url(#b2)"/>
<rect x="59.0" y="564.0" width="13.2" height="4.5" rx="2.2" fill="#606060" fill-opacity="1" filter="url(#b2)"/>
<rect x="75.2" y="564.0" width="13.1" height="4.5" rx="2.2" fill="#606060" fill-opacity="1" filter="url(#b2)"/>
<rect x="93.0" y="564.0" width="12.2" height="4.5" rx="2.2" fill="#606060" fill-opacity="1" filter="url(#b2)"/>
<rect x="114.5" y="565.8" width="12.8" height="5.5" rx="2.8" fill="#959595" fill-opacity="1" filter="url(#b2)"/>
<rect x="130.4" y="560.2" width="13.8" height="4.2" rx="2.1" fill="#7a7a7a" fill-opacity="1" filter="url(#b2)"/>
<rect x="130.4" y="567.0" width="13.8" height="5.0" rx="2.5" fill="#959595" fill-opacity="1" filter="url(#b2)"/>
<text x="160.00" y="505.70" font-size="8.8" text-anchor="start" font-family="Liberation Sans" font-weight="bold" fill="#000" stroke="#000" stroke-width="0.22" ><tspan font-style="italic">Egr1</tspan></text>
<line x1="160.30" y1="508.00" x2="179.20" y2="508.00" stroke="#000" stroke-width="1.1"/>
<line x1="153.30" y1="518.00" x2="161.10" y2="518.00" stroke="#000" stroke-width="1.3"/>
<path d="M150.3,518.0L154.3,516.2L154.3,519.8Z" fill="#000"/>
<text x="164.20" y="519.50" font-size="8.6" text-anchor="start" font-family="Liberation Sans" font-weight="bold" fill="#000" stroke="#000" stroke-width="0.22" >Del</text>
<line x1="153.30" y1="524.50" x2="161.50" y2="524.50" stroke="#000" stroke-width="1.3"/>
<path d="M150.3,524.5L154.3,522.7L154.3,526.3Z" fill="#000"/>
<text x="164.40" y="531.10" font-size="8.6" text-anchor="start" font-family="Liberation Sans" font-weight="bold" fill="#000" stroke="#000" stroke-width="0.22" >WT</text>
<text x="162.40" y="550.40" font-size="8.8" text-anchor="start" font-family="Liberation Sans" font-weight="bold" fill="#000" stroke="#000" stroke-width="0.22" ><tspan font-style="italic">Apc</tspan></text>
<line x1="162.30" y1="552.70" x2="179.00" y2="552.70" stroke="#000" stroke-width="1.1"/>
<line x1="153.30" y1="562.50" x2="161.50" y2="562.50" stroke="#000" stroke-width="1.3"/>
<path d="M150.3,562.5L154.3,560.7L154.3,564.3Z" fill="#000"/>
<text x="165.60" y="562.70" font-size="8.6" text-anchor="start" font-family="Liberation Sans" font-weight="bold" fill="#000" stroke="#000" stroke-width="0.22" >Del</text>
<line x1="153.30" y1="570.40" x2="161.50" y2="570.40" stroke="#000" stroke-width="1.3"/>
<path d="M150.3,570.4L154.3,568.6L154.3,572.1999999999999Z" fill="#000"/>
<text x="165.80" y="574.60" font-size="8.6" text-anchor="start" font-family="Liberation Sans" font-weight="bold" fill="#000" stroke="#000" stroke-width="0.22" >WT</text>
<text x="193.70" y="459.00" font-size="17.3" text-anchor="start" font-family="Liberation Sans" font-weight="bold" fill="#000" stroke="#000" stroke-width="0.22" >D</text>
<text x="0.00" y="0.00" font-size="11.8" text-anchor="start" font-family="Liberation Sans" font-weight="bold" fill="#000" stroke="#000" stroke-width="0.22" font-style="italic" transform="translate(223.6,499.3) rotate(-90)">Apc<tspan dy="-4.3" font-size="7.5" font-style="italic">fl/fl</tspan><tspan dy="4.3">&#8203;</tspan></text>
<text x="0.00" y="0.00" font-size="11.8" text-anchor="start" font-family="Liberation Sans" font-weight="bold" fill="#000" stroke="#000" stroke-width="0.22" font-style="italic" transform="translate(240.4,499.3) rotate(-90)">Apc<tspan dy="-4.3" font-size="7.5" font-style="italic">del/del</tspan><tspan dy="4.3">&#8203;</tspan></text>
<text x="0.00" y="0.00" font-size="11.8" text-anchor="start" font-family="Liberation Sans" font-weight="bold" fill="#000" stroke="#000" stroke-width="0.22" font-style="italic" transform="translate(255.2,499.3) rotate(-90)">Apc<tspan dy="-4.3" font-size="7.5" font-style="italic">del/+</tspan><tspan dy="4.3">&#8203;</tspan></text>
<text x="0.00" y="0.00" font-size="11.6" text-anchor="start" font-family="Liberation Sans" font-weight="bold" fill="#000" stroke="#000" stroke-width="0.22" font-style="italic" transform="translate(271.2,499.3) rotate(-90)">WT</text>
<rect x="211.0" y="502.4" width="62.7" height="53.5" fill="url(#gc2)"/>
<rect x="211.0" y="562.7" width="62.7" height="21.1" fill="#121212"/>
<rect x="212.7" y="518.1" width="12.8" height="4.7" rx="2.4" fill="#f4f4f4" fill-opacity="1" filter="url(#b1)"/>
<rect x="228.2" y="518.3" width="12.1" height="4.4" rx="2.2" fill="#dedede" fill-opacity="1" filter="url(#b1)"/>
<rect x="228.2" y="526.1" width="12.1" height="4.5" rx="2.2" fill="#e8e8e8" fill-opacity="1" filter="url(#b1)"/>
<rect x="243.7" y="512.5" width="11.7" height="3.0" rx="1.5" fill="#4a4a4a" fill-opacity="1" filter="url(#b2)"/>
<rect x="243.7" y="518.7" width="11.7" height="3.2" rx="1.6" fill="#707070" fill-opacity="1" filter="url(#b2)"/>
<rect x="243.7" y="526.5" width="11.7" height="3.6" rx="1.8" fill="#a8a8a8" fill-opacity="1" filter="url(#b1)"/>
<rect x="243.7" y="532.4" width="11.7" height="3.8" rx="1.9" fill="#bcbcbc" fill-opacity="1" filter="url(#b1)"/>
<rect x="258.5" y="531.9" width="12.5" height="4.8" rx="2.4" fill="#dcdcdc" fill-opacity="1" filter="url(#b1)"/>
<rect x="224.8" y="572.5" width="14.4" height="7.5" rx="3.8" fill="#e6e6e6" fill-opacity="1" filter="url(#b1)"/>
<rect x="240.0" y="572.5" width="14.0" height="7.5" rx="3.8" fill="#e6e6e6" fill-opacity="1" filter="url(#b1)"/>
<rect x="224.8" y="567.0" width="29.2" height="4.0" rx="2.0" fill="#333" fill-opacity="1" filter="url(#b2)"/>
<text x="283.00" y="505.50" font-size="11.3" text-anchor="start" font-family="Liberation Sans" font-weight="bold" fill="#000" stroke="#000" stroke-width="0.22" ><tspan font-style="italic">Apc</tspan></text>
<line x1="278.80" y1="517.40" x2="285.50" y2="517.40" stroke="#000" stroke-width="1.2"/>
<path d="M275.8,517.4L279.8,515.6L279.8,519.1999999999999Z" fill="#000"/>
<g transform="translate(288.90,519.00) scale(0.86,1)">
<text x="0.00" y="0.00" font-size="8.7" text-anchor="start" font-family="Liberation Sans" font-weight="bold" fill="#000" stroke="#000" stroke-width="0.22" >Fl</text>
</g>
<line x1="278.80" y1="527.90" x2="285.50" y2="527.90" stroke="#000" stroke-width="1.2"/>
<path d="M275.8,527.9L279.8,526.1L279.8,529.6999999999999Z" fill="#000"/>
<g transform="translate(288.90,529.60) scale(0.86,1)">
<text x="0.00" y="0.00" font-size="8.7" text-anchor="start" font-family="Liberation Sans" font-weight="bold" fill="#000" stroke="#000" stroke-width="0.22" >Del</text>
</g>
<line x1="278.80" y1="536.40" x2="285.50" y2="536.40" stroke="#000" stroke-width="1.2"/>
<path d="M275.8,536.4L279.8,534.6L279.8,538.1999999999999Z" fill="#000"/>
<g transform="translate(288.90,540.60) scale(0.86,1)">
<text x="0.00" y="0.00" font-size="8.7" text-anchor="start" font-family="Liberation Sans" font-weight="bold" fill="#000" stroke="#000" stroke-width="0.22" >WT</text>
</g>
<line x1="275.40" y1="577.90" x2="284.50" y2="577.90" stroke="#000" stroke-width="1.3"/>
<text x="285.00" y="581.60" font-size="11.2" text-anchor="start" font-family="Liberation Sans" font-weight="bold" fill="#000" stroke="#000" stroke-width="0.22" >Cre</text>
<text x="328.20" y="458.60" font-size="16.5" text-anchor="start" font-family="Liberation Sans" font-weight="bold" fill="#000" stroke="#000" stroke-width="0.22" >E</text>
<text x="346.60" y="472.70" font-size="12.2" text-anchor="start" font-family="Liberation Sans" font-weight="bold" fill="#000" stroke="#000" stroke-width="0.22" >Spleen</text>
<line x1="346.40" y1="476.10" x2="386.40" y2="476.10" stroke="#000" stroke-width="1.4"/>
<text x="409.00" y="472.70" font-size="12.2" text-anchor="start" font-family="Liberation Sans" font-weight="bold" fill="#000" stroke="#000" stroke-width="0.22" >Stroma</text>
<line x1="409.00" y1="476.10" x2="451.00" y2="476.10" stroke="#000" stroke-width="1.4"/>
<text x="0.00" y="0.00" font-size="12.0" text-anchor="start" font-family="Liberation Sans" font-weight="bold" fill="#000" stroke="#000" stroke-width="0.22" font-style="italic" transform="translate(359.0,530.3) rotate(-90)">Apc<tspan dy="-4.4" font-size="8.3" font-style="italic">fl/+</tspan><tspan dy="4.4">&#8203;</tspan></text>
<text x="0.00" y="0.00" font-size="12.0" text-anchor="start" font-family="Liberation Sans" font-weight="bold" fill="#000" stroke="#000" stroke-width="0.22" font-style="italic" transform="translate(375.2,530.3) rotate(-90)">Apc<tspan dy="-4.4" font-size="8.3" font-style="italic">del/+</tspan><tspan dy="4.4">&#8203;</tspan></text>
<text x="0.00" y="0.00" font-size="12.0" text-anchor="start" font-family="Liberation Sans" font-weight="bold" fill="#000" stroke="#000" stroke-width="0.22" font-style="italic" transform="translate(391.2,530.3) rotate(-90)">Apc<tspan dy="-4.4" font-size="8.3" font-style="italic">del/del</tspan><tspan dy="4.4">&#8203;</tspan></text>
<text x="0.00" y="0.00" font-size="12.0" text-anchor="start" font-family="Liberation Sans" font-weight="bold" fill="#000" stroke="#000" stroke-width="0.22" font-style="italic" transform="translate(416.9,530.3) rotate(-90)">Apc<tspan dy="-4.4" font-size="8.3" font-style="italic">fl/+</tspan><tspan dy="4.4">&#8203;</tspan></text>
<text x="0.00" y="0.00" font-size="12.0" text-anchor="start" font-family="Liberation Sans" font-weight="bold" fill="#000" stroke="#000" stroke-width="0.22" font-style="italic" transform="translate(433.0,530.3) rotate(-90)">Apc<tspan dy="-4.4" font-size="8.3" font-style="italic">del/del</tspan><tspan dy="4.4">&#8203;</tspan></text>
<text x="0.00" y="0.00" font-size="12.0" text-anchor="start" font-family="Liberation Sans" font-weight="bold" fill="#000" stroke="#000" stroke-width="0.22" font-style="italic" transform="translate(450.0,530.3) rotate(-90)">Apc<tspan dy="-4.4" font-size="8.3" font-style="italic">del/+</tspan><tspan dy="4.4">&#8203;</tspan></text>
<defs><linearGradient id="g1" x1="0" y1="0" x2="1" y2="0"><stop offset="0" stop-color="#e2e2e2"/><stop offset="1" stop-color="#dadada"/></linearGradient><linearGradient id="g2" x1="0" y1="0" x2="1" y2="1"><stop offset="0" stop-color="#bdbdbd"/><stop offset="0.6" stop-color="#cbcbcb"/><stop offset="1" stop-color="#d2d2d2"/></linearGradient></defs>
<rect x="341.8" y="534.3" width="57.0" height="20.4" fill="url(#g1)" stroke="#4a4a4a" stroke-width="1.1"/>
<rect x="403.3" y="534.3" width="53.2" height="21.1" fill="#e6e6e6" stroke="#4a4a4a" stroke-width="1.1"/>
<rect x="341.8" y="564.6" width="57.0" height="21.6" fill="#dcdcdc" stroke="#4a4a4a" stroke-width="1.1"/>
<rect x="403.3" y="564.6" width="54.6" height="21.6" fill="url(#g2)" stroke="#4a4a4a" stroke-width="1.1"/>
<rect x="378.1" y="542.4" width="16.9" height="3.2" rx="1.6" fill="#1e1e1e" fill-opacity="1" filter="url(#b3)"/>
<rect x="378.1" y="546.9" width="13.4" height="2.6" rx="1.3" fill="#2e2e2e" fill-opacity="1" filter="url(#b3)"/>
<rect x="404.0" y="542.4" width="52.0" height="1.3" rx="0.7" fill="#8a8a8a" fill-opacity="1" filter="url(#b3)"/>
<rect x="438.0" y="541.8" width="17.5" height="2.4" rx="1.2" fill="#4a4a4a" fill-opacity="1" filter="url(#b3)"/>
<ellipse cx="430.5" cy="543.5" rx="8.4" ry="5.8" fill="#0e0e0e" filter="url(#b3)"/>
<ellipse cx="430.5" cy="550" rx="6" ry="2.5" fill="#aaa" filter="url(#b2)"/>
<rect x="344.2" y="573.2" width="16.1" height="5.0" rx="2.5" fill="#1e1e1e" fill-opacity="1" filter="url(#b3)"/>
<rect x="363.0" y="573.5" width="12.8" height="4.4" rx="2.2" fill="#222" fill-opacity="1" filter="url(#b3)"/>
<rect x="379.2" y="573.4" width="14.3" height="4.6" rx="2.3" fill="#222" fill-opacity="1" filter="url(#b3)"/>
<rect x="405.8" y="574.9" width="13.8" height="4.8" rx="2.4" fill="#161616" fill-opacity="1" filter="url(#b3)"/>
<rect x="424.2" y="573.3" width="12.8" height="4.8" rx="2.4" fill="#161616" fill-opacity="1" filter="url(#b3)"/>
<rect x="441.5" y="571.6" width="15.0" height="6.0" rx="3.0" fill="#161616" fill-opacity="1" filter="url(#b3)"/>
<rect x="444.0" y="568.5" width="13.0" height="2.0" rx="1.0" fill="#555" fill-opacity="1" filter="url(#b2)"/>
<text x="462.80" y="548.80" font-size="13.5" text-anchor="start" font-family="Liberation Serif" font-weight="normal" fill="#000" >&#946;</text>
<text x="470.40" y="548.80" font-size="12.8" text-anchor="start" font-family="Liberation Sans" font-weight="bold" fill="#000" stroke="#000" stroke-width="0.22" >-catenin</text>
<text x="474.40" y="576.30" font-size="12.0" text-anchor="start" font-family="Liberation Sans" font-weight="bold" fill="#000" stroke="#000" stroke-width="0.22" >Actin</text>
</svg>
</body></html>
